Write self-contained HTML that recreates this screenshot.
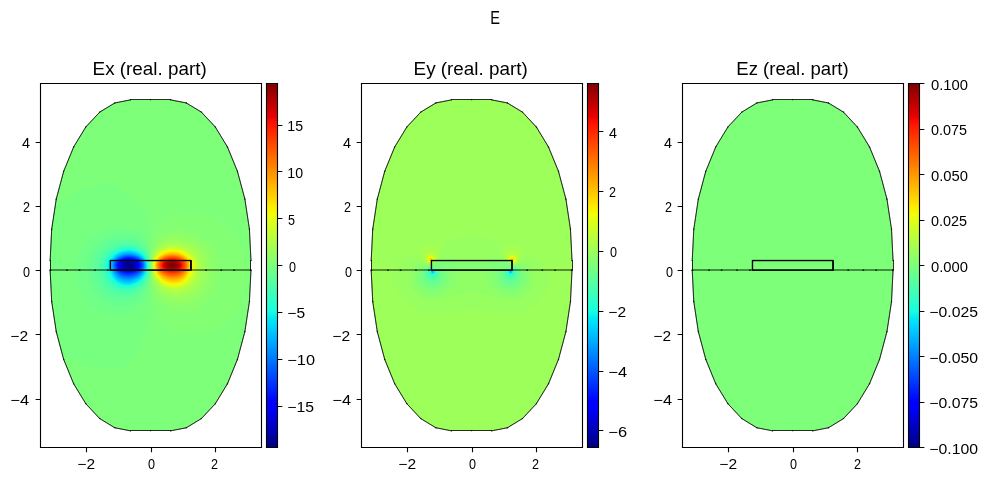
<!DOCTYPE html><html><head><meta charset="utf-8"><style>html,body{margin:0;padding:0;background:#fff;overflow:hidden}svg{display:block;will-change:transform}text{font-family:"Liberation Sans",sans-serif;fill:#000}</style></head><body>
<svg xmlns="http://www.w3.org/2000/svg" width="989" height="481" viewBox="0 0 989 481">
<defs><linearGradient id="jet" x1="0" y1="1" x2="0" y2="0"><stop offset="0.000" stop-color="#000080"/><stop offset="0.110" stop-color="#0000ff"/><stop offset="0.125" stop-color="#0000ff"/><stop offset="0.340" stop-color="#00dcfe"/><stop offset="0.350" stop-color="#00e4f8"/><stop offset="0.375" stop-color="#16ffe1"/><stop offset="0.640" stop-color="#eeff09"/><stop offset="0.650" stop-color="#f8f500"/><stop offset="0.660" stop-color="#feed00"/><stop offset="0.890" stop-color="#ff1300"/><stop offset="0.910" stop-color="#e80000"/><stop offset="1.000" stop-color="#800000"/></linearGradient><clipPath id="cp0"><path d="M170.64 430.85 L186.32 427.77 L201.39 418.62 L215.28 403.78 L227.45 383.79 L237.44 359.45 L244.87 331.67 L249.44 301.53 L250.98 270.18 L250.98 260.54 L249.44 229.19 L244.87 199.05 L237.44 171.27 L227.45 146.93 L215.28 126.94 L201.39 112.1 L186.32 102.95 L170.64 99.87 L150.56 99.87 L130.48 99.87 L114.8 102.95 L99.73 112.1 L85.84 126.94 L73.67 146.93 L63.68 171.27 L56.25 199.05 L51.68 229.19 L50.14 260.54 L50.14 270.18 L51.68 301.53 L56.25 331.67 L63.68 359.45 L73.67 383.79 L85.84 403.78 L99.73 418.62 L114.8 427.77 L130.48 430.85 L150.56 430.85Z"/></clipPath><clipPath id="cp1"><path d="M491.69 430.85 L507.36 427.77 L522.43 418.62 L536.32 403.78 L548.49 383.79 L558.48 359.45 L565.91 331.67 L570.48 301.53 L572.02 270.18 L572.02 260.54 L570.48 229.19 L565.91 199.05 L558.48 171.27 L548.49 146.93 L536.32 126.94 L522.43 112.1 L507.36 102.95 L491.69 99.87 L471.6 99.87 L451.52 99.87 L435.84 102.95 L420.77 112.1 L406.88 126.94 L394.71 146.93 L384.72 171.27 L377.3 199.05 L372.72 229.19 L371.18 260.54 L371.18 270.18 L372.72 301.53 L377.3 331.67 L384.72 359.45 L394.71 383.79 L406.88 403.78 L420.77 418.62 L435.84 427.77 L451.52 430.85 L471.6 430.85Z"/></clipPath><clipPath id="cp2"><path d="M812.73 430.85 L828.4 427.77 L843.47 418.62 L857.36 403.78 L869.53 383.79 L879.53 359.45 L886.95 331.67 L891.52 301.53 L893.06 270.18 L893.06 260.54 L891.52 229.19 L886.95 199.05 L879.53 171.27 L869.53 146.93 L857.36 126.94 L843.47 112.1 L828.4 102.95 L812.73 99.87 L792.64 99.87 L772.56 99.87 L756.89 102.95 L741.82 112.1 L727.93 126.94 L715.75 146.93 L705.76 171.27 L698.34 199.05 L693.77 229.19 L692.22 260.54 L692.22 270.18 L693.77 301.53 L698.34 331.67 L705.76 359.45 L715.75 383.79 L727.93 403.78 L741.82 418.62 L756.89 427.77 L772.56 430.85 L792.64 430.85Z"/></clipPath></defs>
<rect width="989" height="481" fill="#fff"/>
<path d="M170.64 430.85 L186.32 427.77 L201.39 418.62 L215.28 403.78 L227.45 383.79 L237.44 359.45 L244.87 331.67 L249.44 301.53 L250.98 270.18 L250.98 260.54 L249.44 229.19 L244.87 199.05 L237.44 171.27 L227.45 146.93 L215.28 126.94 L201.39 112.1 L186.32 102.95 L170.64 99.87 L150.56 99.87 L130.48 99.87 L114.8 102.95 L99.73 112.1 L85.84 126.94 L73.67 146.93 L63.68 171.27 L56.25 199.05 L51.68 229.19 L50.14 260.54 L50.14 270.18 L51.68 301.53 L56.25 331.67 L63.68 359.45 L73.67 383.79 L85.84 403.78 L99.73 418.62 L114.8 427.77 L130.48 430.85 L150.56 430.85Z" fill="#7dff7a"/>
<g clip-path="url(#cp0)"><path d="M179.4 214l5.6-.2l5.5 .2l5.5 .6l5.5 1.1l5.5 1.6l5 1.8l5 2.3l4.5 2.7l4.5 3.1l3.8 3.3l3.5 3.5l3.2 4l2.6 4l2.3 4.5l1.8 4.5l1.3 4.5l.7 4.5l.3 4.5l-.1 4.5l-.3 4l.3 7l-.3 6l-.7 5l-1.2 5l-1.6 5l-2.2 5l-2.8 5l-3.1 4.5l-4 4.5l-4 3.6l-4.5 3.3l-5 2.8l-5 2l-5 1.4l-4.5 .8l-4.5 .3l-4.5-.1l-5-.5l-5-1l-5-1.4l-5-1.9l-4-1.9l-2-1.3l-2-1.8l-2-2.3l-1.5-2.2l-2.2-4.3l-2.1-5.5l-3.2-5.5l-.8-2.5l-.7-4.5l-.9-12l-.4-9.5l0-12.5l0-8l.5-8l1-9.5l.8-3.6l.8-1.9l.7-1.2l3.8-3.8l2.2-3.4l1.7-2.1l3.3-3.1l3-2l3.5-1.5l3.5-.9z" fill="#83ff73"/><path d="M174.8 230l3.7-.2l4 .1l3.5 .5l4 .8l3.5 1.1l3.5 1.4l3 1.5l3.5 2.1l3 2.2l3 2.7l2.6 2.8l2.2 3l1.8 3l1.4 3l1.1 3.5l.7 3l.4 3.5l-.1 3.5l-.6 6l-.2 4l-.5 3.5l-.8 3.5l-1.1 3.5l-1.5 3.5l-1.7 3l-2.1 3l-2.6 3l-3 2.7l-3 2.2l-3 1.8l-3.5 1.6l-4 1.4l-4 .9l-3.5 .3l-3.5 0l-3.5-.3l-3.5-.8l-3.5-1.1l-3-1.3l-3-1.6l-3-2l-3.3-2.8l-1.1-1.5l-.8-1.5l-.8-2l-1.2-4.5l-1.4-4l-.7-3.5l-1.1-9l-.2-9.5l.1-7.5l.2-3l.8-5l.6-2.5l.6-2l1.9-4l1.6-4l1.3-1.9l1.5-1.4l3-1.6l4-1.5l4-1z" fill="#8aff6d"/><path d="M175.2 234.5l3.3 0l3.5 .2l3.5 .6l3 .8l3 1l3 1.3l3 1.7l2.5 1.6l2.5 2l2.4 2.3l1.7 2l1.8 2.5l1.5 2.5l1.3 3l.9 3l.5 2.5l.3 3l-.1 3.5l-1.4 11l-.7 3l-1 3l-1.3 3l-1.4 2.5l-2.2 3l-2.2 2.5l-2.6 2.3l-2.5 1.9l-3 1.7l-3 1.3l-3 1l-3.5 .7l-3 .3l-3.5 0l-3-.4l-3-.6l-3-1l-3-1.3l-3-1.7l-2-1.4l-1.5-1.6l-1.5-2.2l-4.3-8l-1.1-3.5l-1.5-7l-.4-10.5l.3-9l.3-2l1.3-4.5l1.4-3.4l2-2.8l2.5-3.1l2.5-2.6l1.5-1.1l2-.9l3.5-1.1l3.5-.7z" fill="#90ff66"/><path d="M171.4 238.5l3.1-.3l3-.1l3 .2l3 .4l5.5 1.5l3 1.3l2.5 1.3l2.5 1.6l2.5 2l2 1.9l1.9 2.2l1.4 2l1.4 2.5l1 2.5l.8 2.5l.4 2.5l.2 2.5l-.4 5.5l-1 6.5l-.5 2.5l-1.2 3.5l-1.4 3l-1.5 2.5l-1.9 2.5l-1.8 2l-2.3 2l-2.2 1.5l-2.4 1.4l-2.5 1l-3 1l-2.5 .5l-3 .3l-3 0l-3-.4l-3-.6l-3-1l-3.5-1.5l-2-1.1l-1.5-1.2l-2-2l-2-2.5l-2-3l-1.7-3.4l-2-6.5l-.5-3l-.3-6.5l0-4.5l.2-5l.6-3.5l2.2-5.2l1.1-1.8l1.9-2.3l2.5-2.3l2-1.6l2-1.2l2-.9l2-.6z" fill="#97ff60"/><path d="M170.3 241l5.7-.3l5.5 .5l5.5 1.5l5 2.3l2 1.2l2.4 1.8l3.6 3.6l1.8 2.4l1.1 2l.9 2l.8 2.5l.5 2.5l.1 2l-.4 5l-1.7 8.5l-1 3l-1.2 2.5l-2.7 4l-1.7 1.9l-2 1.8l-4 2.6l-2.5 1.1l-2.5 .9l-5 .9l-2.5 .1l-3-.1l-3-.5l-2.5-.7l-3-1l-2-1l-2-1.4l-2-1.8l-3.5-4.2l-1.3-2.1l-1.2-2.4l-1.9-5.1l-.4-2l-.3-3.5l-.2-8.5l.6-6l.6-2l.8-2l1.3-2.2l1.7-2.3l1.8-1.8l2.5-2l2.5-1.6l2-.9l2.5-.8z" fill="#9dff5a"/><path d="M172.6 242.5l4.9 .1l5 .8l5 1.7l4.5 2.3l4 3.1l3 3.5l1.3 2l1 2l.9 2.5l.4 1.5l.2 4l-.4 4.5l-1.9 8l-1.2 3l-1.4 2.5l-1.5 2l-1.8 2l-3.6 3l-2 1.2l-2.5 1.1l-2.5 .8l-2.5 .6l-4.5 .3l-5-.4l-5-1.4l-3.5-1.9l-2-1.6l-2-2l-3.5-4.4l-2-3.8l-1.4-4.5l-.6-7.5l.1-6l.8-5l.7-2l.9-1.7l1.5-2.1l1.5-1.6l2.5-2.1l2.5-1.6l2.5-1.3l2.5-.8l2.5-.6z" fill="#a4ff53"/><path d="M171 244l5-.1l5.5 .8l5 1.7l4.5 2.3l3.5 2.7l2.8 3.1l2.1 3.5l1.3 3.5l.4 4l-.4 4.5l-1.9 7.5l-1 2.5l-1.1 2l-2.7 3.7l-1.8 1.8l-1.7 1.3l-4 2.4l-4.5 1.4l-4.5 .6l-4.5-.2l-4.5-1l-2-.7l-2-1.1l-2-1.4l-2-1.7l-3.8-4.1l-2.2-3.7l-1.5-4.3l-.7-6l-.1-6l.8-5.5l.7-2l1-2l1.3-1.8l1.5-1.6l4-2.8l2-1.1l2.5-1.1l2.5-.7z" fill="#aaff4d"/><path d="M168.9 245.5l2.1-.3l2.5-.2l5 .4l4.5 1.1l4.5 1.8l3.5 2l3.5 3.1l2.4 3.1l2 4l.7 4l-.3 5l-1.9 7l-1.5 3.5l-2.2 3.5l-2.7 2.8l-3.5 2.5l-2 1l-2.5 .9l-4.5 .9l-4.5 .1l-4.5-.8l-2-.6l-2-.9l-4-2.6l-2-1.7l-2-2.1l-1.2-1.5l-1.1-2l-1.7-4.2l-.5-1.8l-.4-3l-.2-6.5l.8-5.5l1.3-3.6l2-2.9l1.5-1.5l1.5-1.1l2-1.2l3-1.4z" fill="#b1ff46"/><path d="M168.3 246.5l4.2-.5l4.5 .3l4.5 .9l4.5 1.6l5 3l1.9 1.7l2.9 3.5l1.8 3.5l.5 2l.2 2l-.3 5l-1.9 6.5l-1.3 3l-2.2 3.5l-2.6 2.7l-3.5 2.5l-3.5 1.6l-4.5 1l-4.5 .1l-4.5-.6l-4-1.5l-4-2.5l-3.6-3.3l-2.2-3l-1.9-4.5l-.5-2l-.5-3l-.2-6l.8-5l1.3-3.5l2-3l1.3-1.2l1.5-1.2l2-1.2l2.5-1.1z" fill="#b7ff40"/><path d="M169.3 247l4.2-.3l4.5 .5l4 1l4 1.6l5 3.2l1.5 1.5l2.4 3l1.8 3.5l.5 4l-.4 5l-2 6l-1.6 3.5l-2.2 3l-3 2.8l-3 1.9l-4 1.5l-4.5 .8l-4.5-.2l-4-.8l-4-1.8l-3.5-2.5l-3-3l-2-3.2l-1.8-4.5l-.8-5l-.1-5l.9-4.5l1.5-3.5l2.3-3l1.5-1.4l1.5-1l4-1.9l2.5-.7z" fill="#beff39"/><path d="M169.9 247.5l4.1-.2l4 .5l4 1.1l3.5 1.4l2.5 1.5l3.5 2.7l2.5 3l1.2 2l.6 1.5l.4 2l.2 2l-.1 2.5l-.3 2.5l-2.1 6l-1.5 3l-1.3 2l-1.4 1.5l-2.7 2.4l-3 1.8l-4 1.4l-4 .6l-4.5-.2l-3.5-.8l-4-1.8l-3.5-2.4l-2.9-3l-2.1-3.4l-1.7-4.1l-.7-5l-.2-3l.2-2l.9-4l1.7-3.5l1.3-1.8l1.2-1.2l1.3-1.1l2-1.2l4-1.7z" fill="#c4ff33"/><path d="M170.2 248l3.8-.1l4 .5l4 1.1l3.5 1.5l2.5 1.6l3.5 2.8l2.4 3.1l1.1 2l.3 1l.4 3.5l-.4 5l-2.1 5.5l-1.4 3l-.8 1.3l-1.9 2.2l-2.6 2.3l-3.5 2l-3.5 1.2l-4 .5l-4.5-.2l-4-1.1l-3.5-1.8l-3.5-2.6l-2.5-2.8l-2.4-4l-.8-2l-.4-1.5l-.7-4.5l.1-4.5l.3-2l.7-2l1.7-3.3l2.5-2.9l3-2.1l4-1.7l2.5-.7z" fill="#caff2c"/><path d="M170.3 248.5l3.7-.1l4 .5l3.5 1l3.7 1.6l2.8 1.8l2.5 2.3l.5 .1l1.5 1.8l1.3 2l.6 1l.4 1.5l.3 3.5l-.4 4.5l-2.4 6l-1.3 2.5l-2.5 3.1l-2.8 2.4l-3.2 1.8l-3.5 1.1l-4 .5l-4-.3l-4-1.1l-3.5-1.7l-3.5-2.7l-2.5-2.8l-2.3-3.8l-.7-1.7l-.5-1.8l-.6-4.5l.1-4l.8-3.5l1.9-3.5l2.3-2.6l1.5-1.2l2-1.2l4-1.6z" fill="#d1ff26"/><path d="M170.3 249l3.7-.1l3.5 .4l3.5 .9l3.5 1.5l3.5 2.3l2.5 2.5l.5-.1l2.3 3.1l.5 1l.3 1l.5 3.5l-.4 5l-3.2 7.2l-2.5 3.4l-2.6 2.4l-3.4 2l-3.5 1.2l-3.5 .6l-4-.2l-4-1l-3.5-1.7l-3.5-2.5l-2.5-2.6l-1.3-1.8l-1.2-2.1l-.8-1.9l-.5-1.5l-.6-4.5l.1-4l.8-3.3l1.8-3.2l1.2-1.6l1.5-1.4l3-2l4-1.6z" fill="#d7ff1f"/><path d="M170 249.5l3.5-.2l3.5 .4l3.5 .9l3.5 1.5l2 1.1l1.7 1.3l1.6 1.5l1.2 1.4l.5-.3l2 2.9l.6 1.5l.5 3.5l-.4 5l-2.7 5.9l-.5 .4l-2 3.2l-2.5 2.6l-1.5 1.1l-2 1.1l-3.5 1.3l-4 .6l-4-.3l-3.5-.9l-3.5-1.6l-3.5-2.5l-2.5-2.6l-2.1-3.3l-.9-1.8l-.5-1.7l-.7-4.5l.1-4l.8-3l1.8-3.3l2.5-2.7l3-2l4-1.7z" fill="#deff19"/><path d="M169.4 250l3.6-.2l3.5 .3l3 .7l3.5 1.3l2.5 1.4l2 1.5l1.5 1.5l1.5 1.9l.5-.6l1.6 2.2l.4 1l.6 3.5l-.3 4.5l-.3 1.5l-2 4.1l-.5 0l-1.7 3.4l-1.3 1.7l-1.5 1.6l-3 2.1l-3.5 1.5l-4 .7l-3.5-.1l-4-.8l-3.5-1.6l-3.5-2.3l-2.5-2.5l-2.5-3.7l-1.3-3.1l-.7-4l0-4l.4-2l.5-1.5l1.6-2.9l2.4-2.6l2.6-1.9l4-1.7z" fill="#e4ff13"/><path d="M168.6 250.5l3.4-.3l3.5 .1l3.5 .8l3 1l2.5 1.3l2 1.4l2.3 2.2l1.7 2.4l.5-.9l1.4 2l.7 3.5l-.1 4l-.3 2l-1.7 3.5l-.5-.6l-.7 2.1l-1 2l-1.4 2l-1.4 1.5l-3 2.2l-3.5 1.6l-3.5 .7l-3.5 .1l-4-.7l-3-1.2l-3.5-2.1l-2.9-2.6l-2.6-3.5l-1.3-3l-.9-4l-.1-4l.6-3l1.5-3l2.2-2.7l2.5-2l4-1.9z" fill="#ebff0c"/><path d="M167.8 251l3.2-.4l3.5 0l3.5 .6l3 .9l3 1.5l2.7 1.9l2.4 2.5l1.4 2.4l.5-1.3l1 1.4l.6 2.5l.2 2l-.2 3l-.5 2.5l-1.1 2.1l-.5-1l-1.8 4.4l-1.2 2l-1.2 1.5l-2.8 2.3l-3.5 1.8l-3.5 .9l-3.5 .2l-3.5-.5l-3.5-1.2l-3.5-2l-2.9-2.5l-2.1-2.6l-1.9-3.4l-1-3.5l-.3-4l.4-3l1.3-3l2-2.8l2.5-2.2l3.5-1.8z" fill="#f1fc06"/><path d="M169.8 251l3.2-.2l3 .3l3 .7l3 1.1l3 1.7l2.2 1.9l2.1 2.5l1.2 2.5l.5-1.9l.8 1.4l.5 3l0 3l-.3 3l-1 1.9l-.5-1.7l-2.3 5.8l-1.3 2l-1.8 2l-3.1 2.2l-3.5 1.5l-3.5 .6l-4-.2l-4-1.1l-3-1.5l-3-2.2l-2.5-2.6l-2.1-3.2l-1.3-3.5l-.6-3.5l.2-3.5l1-3l1.6-2.5l2.2-2.3l3-2l3.5-1.4z" fill="#f8f500"/><path d="M168.7 251.5l3.3-.3l3 .1l3 .6l3 .9l3.5 1.9l2.7 2.3l2 2.5l.7 1.5l.6 1.9l.5-2.8l.3 .4l.5 2l.2 2.5l-.1 3.5l-.5 2l-.4 .7l-.3-1.2l-.2-1.6l-.6 2.6l-1.4 3.5l-.8 1.5l-1.2 1.9l-1.5 1.6l-1.8 1.5l-1.7 1l-2.4 1l-3.1 .7l-3.5 .1l-3.5-.6l-3.5-1.4l-3-1.8l-3-2.7l-2.5-3.3l-1.4-3l-.8-3.5l0-3.5l.7-2.9l1.4-2.6l2.1-2.4l2.5-1.9l3.5-1.7z" fill="#feed00"/><path d="M168 252l3.5-.5l3.5 .2l3.5 .6l3 1.1l2.5 1.4l2.5 1.9l2 2.3l1.3 2.5l.6 3l-.1 3l-.6 3l-1.7 4.2l-1.4 2.3l-1.7 2l-2.4 1.9l-2.5 1.3l-3 .8l-3.5 .4l-3.5-.5l-3.5-1.1l-3.5-2l-3-2.5l-2.5-3l-1.4-2.8l-.9-3l-.3-3.5l.5-3l1.2-2.5l1.9-2.5l2.5-2.1l3.5-1.8zM191 260.6l.6 2.4l.1 2l-.2 3.5l-.2 1.5l-.3 .7l-.3-1.7l-.2-3.5z" fill="#ffe600"/><path d="M170.4 252l3.1-.1l3.5 .4l3 .9l3 1.3l2.5 1.7l2 2l1.5 2.3l.9 2.5l.3 2.5l-.4 3.5l-1 3l-2 4l-1.8 2.3l-2 1.7l-2.5 1.4l-3 1l-3.5 .4l-3.5-.3l-3.5-1.1l-3-1.5l-3-2.2l-2.6-2.7l-1.6-2.5l-1.3-3.6l-.4-3.4l.2-2.5l1-2.5l1.7-2.5l2.5-2.3l2.5-1.5l3.5-1.4zM191 261.6l.4 3.4l0 2.5l-.4 2.5l-.3-4.5z" fill="#ffde00"/><path d="M169.5 252.5l3-.2l3.5 .2l3 .7l3 1.2l2.5 1.5l2 1.6l1.6 2l1.3 2.5l.5 2.5l-.2 3.5l-.8 3l-1.6 3.5l-1.3 2l-2 2.1l-2.5 1.7l-2.5 1.1l-3 .7l-3.5 .1l-3.5-.6l-3.5-1.4l-3.5-2.2l-2.5-2.2l-2-2.6l-1.4-3.2l-.7-3l0-3l.7-2.5l1.4-2.5l2-2.1l3-2.1l3.5-1.5zM191 263l.2 2.5l-.2 2.8l-.1-2.8z" fill="#ffd700"/><path d="M168.9 253l3.1-.3l3.5 .1l3 .6l2.9 1.1l2.6 1.4l2 1.6l1.8 2l1.2 2.3l.6 2.2l0 3l-.6 2.8l-1 2.5l-1.5 2.8l-1.5 1.9l-2.3 2l-2.7 1.5l-3 .9l-3.5 .3l-3.5-.4l-3.5-1.1l-3-1.6l-3-2.3l-2.5-2.8l-1.5-3l-.8-3l-.2-3l.6-2.5l1.3-2.5l2.1-2.3l2.5-1.7l3.5-1.6z" fill="#ffd000"/><path d="M168.2 253.5l3.3-.4l3 0l3 .5l3 .9l2.5 1.2l2.5 1.8l1.9 2l1.1 1.9l.7 2.1l.2 2l-.4 3l-.8 2.5l-1.7 3.3l-1.5 2.1l-2 1.8l-2.5 1.5l-3 1l-3.5 .5l-3.5-.3l-3-.8l-3.5-1.7l-3-2.1l-2.5-2.7l-1.5-2.6l-1-3l-.3-3l.4-2.5l1.3-2.5l2.1-2.4l2.5-1.8l3-1.4z" fill="#ffc800"/><path d="M170.6 253.5l2.9-.1l3 .3l3.5 1l2.5 1.1l2 1.3l2.1 1.9l1.4 2l.8 2l.3 2.5l-.3 3l-1.1 3l-1.7 2.9l-1.5 1.9l-2 1.7l-2 1.1l-2.5 1l-3 .5l-3.5-.1l-3.5-.7l-3.5-1.6l-3-2l-2.5-2.4l-1.5-2.3l-1.2-3l-.4-3l.3-2.5l1.1-2.5l1.6-2l2.1-1.8l2.5-1.4l3.5-1.2z" fill="#ffc100"/><path d="M169.1 254l2.9-.3l3 .2l2.5 .4l3 .9l2.5 1.3l2.2 1.5l1.8 2l1.2 2l.6 2l0 2.5l-.5 2.5l-.8 2.2l-2 3.3l-1.3 1.5l-1.8 1.5l-2.4 1.3l-3 1l-3 .4l-3.5-.3l-3-.8l-3.5-1.6l-3-2.1l-2-2.1l-1.7-2.8l-.9-2.5l-.3-3l.5-2.5l1.3-2.5l2.1-2.2l2.5-1.7l3-1.2z" fill="#ffb900"/><path d="M167.9 254.5l3.1-.4l3 0l2.5 .3l3 .8l2.5 1l2.5 1.6l1.5 1.4l1.4 1.8l.9 2l.3 2l-.2 2.5l-.5 2l-1.2 2.5l-1.7 2.5l-1.5 1.6l-2 1.4l-3 1.4l-3 .7l-3 .1l-3.5-.6l-3.5-1.3l-3-1.7l-2.5-2.1l-1.9-2.5l-1.2-2.5l-.6-3l.2-2.5l1-2.5l1.5-2l2.5-2l3-1.5z" fill="#ffb200"/><path d="M169.5 254.5l2.5-.2l3 .1l2.5 .5l3 .9l2.5 1.3l1.9 1.4l1.6 1.7l1.1 1.8l.6 2l.1 2l-.4 2.5l-.7 2l-1.2 2l-2 2.5l-2 1.7l-2 1.1l-3 1l-3 .4l-3.5-.3l-3-.7l-3.5-1.6l-3-2.1l-2-2.1l-1.5-2.6l-.9-2.8l-.1-2.5l.7-2.5l1.3-2l2-2l2.5-1.6l3-1.2z" fill="#ffab00"/><path d="M168 255l2.5-.4l3 0l3 .3l2.5 .7l2.5 1l2 1.1l2 1.7l1.3 1.6l.7 1.5l.5 2l0 2l-.5 2.5l-1 2.1l-1.5 2.2l-1.5 1.7l-2 1.5l-2.5 1.2l-3 .8l-3 .2l-3.5-.4l-3.5-1.2l-3.5-1.9l-2.5-2l-1.5-2l-1.3-2.7l-.5-2.5l.2-2.5l1.1-2.5l1.7-2l2.3-1.8l3-1.4z" fill="#ffa300"/><path d="M169.6 255l2.9-.2l2.5 .2l2.5 .4l2.5 .8l2.5 1.2l2 1.4l1.5 1.6l1 1.6l.6 1.5l.2 2l-.3 2.5l-.8 2l-1.2 2.1l-2 2.3l-1.5 1.2l-2 1.2l-3 1l-3 .4l-3-.1l-3.5-.8l-3.5-1.5l-2.5-1.7l-2-1.9l-1.5-2.4l-.8-2.3l-.3-2.5l.6-2.5l1.1-2l1.9-2l2.5-1.5l3-1.2z" fill="#ff9c00"/><path d="M168 255.5l2.5-.4l3 0l2.5 .3l2.5 .6l2.5 .9l2 1.1l1.9 1.5l1.2 1.5l.9 1.5l.4 1.5l.1 2l-.3 2l-.7 1.8l-1 1.8l-2 2.3l-1.5 1.2l-2.5 1.4l-3 1l-3 .3l-3.5-.3l-3-.8l-3.5-1.6l-2.5-1.7l-2-2.4l-1.3-2.5l-.5-2.5l.2-2.5l.8-2l1.6-2l2.2-1.7l3-1.5z" fill="#ff9400"/><path d="M169.4 255.5l2.6-.2l2.5 .1l2.5 .4l2 .6l2 .8l2.3 1.3l1.7 1.5l1.2 1.5l.7 1.5l.4 1.5l-.1 2l-.4 2l-1 2l-1 1.5l-2 2l-1.8 1.3l-2.5 1.2l-3 .7l-3 .2l-3.5-.5l-3.5-1.2l-3-1.6l-2-1.6l-1.8-2.5l-1.1-2.5l-.2-2.5l.5-2.5l1.1-1.8l1.6-1.7l2.4-1.6l3-1.2z" fill="#ff8d00"/><path d="M167.8 256l2.2-.3l2.5-.2l2.5 .2l2.5 .5l2.5 .8l2 1l1.5 1l1.6 1.5l1.1 1.5l.6 1.5l.2 1.5l-.1 2l-.6 2l-.8 1.5l-1.1 1.5l-1.9 1.8l-2.5 1.6l-2.5 1l-3 .5l-3.5 0l-3.5-.8l-3-1.2l-2.5-1.5l-2-1.9l-1.5-2.4l-.8-2.6l0-2.5l.7-2l1.5-2l2.1-1.7l2.5-1.3z" fill="#ff8600"/><path d="M169 256l2.5-.2l2.5 0l2.5 .4l2.5 .6l2 .9l2 1.2l1.5 1.3l1.1 1.3l.8 1.5l.4 1.5l0 1.5l-.4 2l-.9 2l-1 1.4l-1 1.1l-2 1.6l-2.5 1.4l-3 .8l-3 .3l-3-.2l-3.5-1l-3-1.4l-2.1-1.5l-1.9-2.2l-1.2-2.3l-.4-2.5l.2-2l.9-2l1.7-2l2.2-1.5l2.6-1.1z" fill="#ff7e00"/><path d="M171.2 256l2.3 0l2.5 .3l2.5 .6l2 .8l2 1.1l1.5 1.2l1.3 1.5l.8 1.5l.4 1.5l0 2l-.5 1.8l-.8 1.7l-1.2 1.6l-1.5 1.3l-2 1.4l-2 1l-3 .8l-3 .1l-3-.3l-3-.8l-3-1.4l-2-1.5l-1.9-2.2l-1-2l-.5-2l.1-2l.8-2l1.5-2l2-1.5l2.5-1.2l3-.9z" fill="#ff7700"/><path d="M168.7 256.5l4.3-.3l2.5 .2l2 .4l2 .7l2 .9l1.5 1l1.2 1.1l.8 1l.9 1.5l.4 1.5l0 1.5l-.3 1.5l-.6 1.5l-.9 1.5l-1 1.2l-2.5 1.9l-2.5 1.3l-3 .8l-3 .2l-3.1-.4l-3.4-1l-2.9-1.5l-2.1-1.8l-1.5-2l-.9-2.2l-.2-2.5l.6-2l1.4-2l2.1-1.7l2.5-1.3z" fill="#ff6f00"/><path d="M170.4 256.5l4.1 0l2.5 .4l1.9 .6l2.1 .9l1.5 .9l1.4 1.2l.8 1l.8 1.3l.4 1.2l.2 1.5l-.2 1.5l-.5 1.5l-.9 1.5l-1 1.2l-1.5 1.3l-2.5 1.6l-2.5 .9l-3 .5l-3-.1l-3.5-.8l-3-1.2l-2.5-1.7l-1.6-1.7l-1.2-2l-.5-2.5l.2-2l1.1-2.1l1.9-1.9l2.1-1.3l3-1.1z" fill="#ff6800"/><path d="M168.5 257l4-.4l4 .5l2 .5l2 .8l1.8 1.1l1.2 1l1 1.1l.8 1.4l.4 1l.1 1.5l-.2 1.5l-.5 1.5l-1.6 2.3l-2 1.7l-2.5 1.4l-2.5 .8l-3 .4l-3-.2l-3.5-.8l-3-1.4l-2-1.4l-2-2.3l-.8-2l-.3-2l.6-2.3l1.5-2.1l2-1.6l2.5-1.2z" fill="#ff6000"/><path d="M170.2 257l3.8-.1l4 .8l2 .8l1.5 .8l1.5 1.1l1 1l1.2 2.1l.3 1l0 1.5l-.3 1.5l-.7 1.5l-1 1.3l-1 1l-2.5 1.7l-2.5 1l-2.5 .5l-3 .1l-3.5-.5l-3-1l-2.5-1.4l-1.8-1.7l-1.4-2l-.5-2l0-1.5l.2-1l1-1.9l1.6-1.6l2.4-1.5l2.9-1z" fill="#ff5900"/><path d="M168.5 257.5l4-.4l3.5 .4l3.5 1l3 1.8l1.3 1.2l.7 1l.7 2l0 1l-.2 1.5l-.6 1.5l-.9 1.3l-2 1.9l-2.5 1.3l-2.5 .9l-3 .3l-3-.1l-3-.7l-3-1.2l-2-1.3l-1.8-1.9l-.9-2l-.3-2l.5-2l1.4-2l1.6-1.4l2.5-1.2z" fill="#ff5200"/><path d="M170.1 257.5l3.9-.1l3.5 .7l3 1.2l2.5 1.8l.8 .9l.7 1.3l.4 1.2l0 1l-.2 1.5l-.4 1l-.8 1.3l-1 1.1l-2 1.5l-2.5 1.1l-2.5 .6l-3 .3l-3-.4l-3-.8l-2.5-1.2l-2-1.5l-1.5-2l-.6-2l.1-2l.9-2l1.6-1.7l2-1.2l2.5-1z" fill="#ff4a00"/><path d="M168.6 258l3.9-.4l3.5 .4l3.3 1l2.6 1.5l1.1 1l.8 1l.7 2l.1 1l-.3 1.5l-1 2l-1.8 1.8l-2 1.2l-2.5 .9l-3 .5l-3 0l-3-.5l-3-1.2l-2-1.2l-1.5-1.5l-1.1-2l-.3-2l.6-2l1-1.5l1.8-1.5l2.5-1.3z" fill="#ff4300"/><path d="M170.2 258l3.3-.1l3.5 .6l2.8 1l2.3 1.5l.9 1l.7 1l.6 2l-.2 1.5l-.3 1l-1.3 1.9l-1.9 1.6l-2.1 1l-2.5 .8l-3 .3l-3-.2l-3-.7l-2.5-1.1l-2-1.5l-1.3-1.6l-.7-2l.1-2l.7-1.5l1.3-1.5l2.3-1.5l2.6-1z" fill="#ff3b00"/><path d="M168.7 258.5l3.3-.4l3.5 .3l3 .8l2.5 1.4l1.1 .9l.9 1l.8 2l0 2l-1 2l-1.8 1.8l-2 1.2l-2.5 .8l-2.5 .4l-3 0l-2.5-.4l-2.5-.8l-2.5-1.4l-1.5-1.5l-.9-1.6l-.3-2l.3-1.5l.9-1.5l1.7-1.5l2.3-1.2z" fill="#ff3400"/><path d="M170.3 258.5l3.2-.1l3.5 .6l2.5 1l2.2 1.5l1.2 1.5l.6 2l-.3 2l-1.2 1.9l-1.9 1.6l-2.1 1l-2.5 .7l-2.5 .3l-3-.2l-2.5-.6l-2.5-1l-1.7-1.2l-1.4-1.5l-.8-2l.2-2l.7-1.5l1.5-1.5l2-1.2l2.5-.9z" fill="#ff2d00"/><path d="M168.8 259l3.2-.3l3 .2l3 .7l2.5 1.3l1.7 1.6l.6 1l.3 1l-.1 2l-.7 1.5l-1.4 1.5l-1.9 1.2l-2 .8l-2.5 .5l-2.5 .2l-3-.4l-2.5-.7l-2.1-1.1l-1.7-1.5l-.9-1.5l-.4-2l.4-1.5l1-1.5l1.7-1.4l2-.9z" fill="#ff2500"/><path d="M170.6 259l2.9-.1l2.5 .4l2.5 .8l2.2 1.4l1.4 1.5l.5 1l.2 1l-.1 1l-.3 1l-.9 1.5l-1.5 1.3l-2 1l-2.5 .8l-2.5 .3l-2.5-.2l-2.5-.5l-2.5-.9l-1.9-1.3l-1.2-1.5l-.6-1.5l0-1.5l.7-1.6l1.3-1.4l1.7-1.1l2.5-.9z" fill="#ff1e00"/><path d="M169 259.5l2.5-.3l3 .1l2.9 .7l2.1 1l1.8 1.5l.9 1.5l.2 1.5l-.2 1l-.4 1l-1.3 1.5l-1.5 1l-2 .9l-2.5 .5l-2.5 .2l-2.5-.3l-2.5-.7l-2-1l-1.5-1.1l-1.1-1.5l-.3-1.5l.2-1.5l.9-1.5l1.3-1.2l2-1z" fill="#ff1600"/><path d="M170.8 259.5l2.7 0l2.5 .4l2.5 .9l1.8 1.2l1.3 1.5l.4 1.5l-.2 1.5l-.8 1.5l-1.5 1.3l-2 1.1l-2 .5l-2.5 .4l-2.5-.1l-2.5-.6l-2-.7l-2-1.4l-.9-1l-.7-1.5l.1-1.5l.6-1.5l1.4-1.3l1.5-.9l2.5-.9z" fill="#fa0f00"/><path d="M169.1 260l2.9-.3l2.5 .1l2.5 .7l2.2 1l1.6 1.5l.7 1.5l.1 1.5l-.7 1.5l-1.4 1.4l-1.5 .9l-2 .7l-2 .4l-2.5 .1l-2.5-.4l-2-.6l-2-1l-1.1-1l-1-1.5l-.2-1.5l.2-1l1-1.5l1.3-1l1.8-.9z" fill="#f10800"/><path d="M170.7 260l2.3 0l2.5 .3l2 .6l1.8 1.1l1.1 1l.7 1.5l.1 1.5l-.8 1.5l-1.4 1.4l-1.5 .8l-2 .6l-2.5 .4l-2.5-.1l-2-.4l-2-.7l-1.7-1l-1-1l-.7-1.5l0-1.5l.4-1l1.4-1.5l1.6-.9l2-.7z" fill="#e80000"/><path d="M169.1 260.5l2.4-.3l2.5 .1l2 .4l2 .8l1.5 1.1l1.1 1.4l.2 1.5l-.4 1.5l-.9 1.1l-1.5 1l-2 .8l-2 .4l-2.5 .1l-2-.2l-2-.6l-1.5-.6l-1.3-1l-.8-1l-.5-1.5l.1-1.1l.8-1.4l1.1-1l1.6-.9z" fill="#df0000"/><path d="M170.5 260.5l2.5-.1l2 .3l2 .6l1.5 .8l1 .9l.9 1.5l0 1.5l-.5 1l-.9 1.1l-1.5 1l-2 .7l-2 .3l-2 .1l-2-.3l-2-.5l-1.7-.9l-1.3-1.2l-.7-1.3l0-1.5l.5-1l.9-1l1.6-1l1.7-.6z" fill="#d60000"/><path d="M169.1 261l2.4-.3l2 0l2 .4l2 .8l1.5 1.1l.8 1l.3 1l-.3 1.5l-.7 1l-1.2 1l-1.4 .7l-2 .5l-2 .2l-2-.1l-1.8-.3l-1.7-.6l-1.4-.9l-1-1l-.4-1l0-1.5l.5-1l1-1l1.8-1z" fill="#cd0000"/><path d="M170.4 261l2.1-.1l2 .2l2 .6l1.5 .8l1 1l.6 1l0 1.5l-.5 1l-1 1l-1.6 .9l-1.5 .5l-2 .3l-3.5-.3l-1.5-.4l-1.9-1l-1-1l-.5-1l-.1-1l.3-1l.8-1l1.5-1l1.4-.6z" fill="#c40000"/><path d="M169.2 261.5l2.3-.3l2 0l1.5 .3l2 .8l1.1 .7l.9 1.1l.3 1.4l-.3 1l-.8 1l-1.2 .8l-1.5 .6l-1.5 .4l-2 .1l-1.5-.1l-1.5-.3l-1.5-.6l-1.4-.9l-.9-1l-.3-1l.1-1l.6-1l.9-.8l1.3-.7z" fill="#bb0000"/><path d="M170.9 261.5l3.1 .1l1.7 .4l1.3 .6l1.1 .9l.6 1l.1 1l-.3 1l-.9 1l-.7 .5l-1.4 .6l-1.6 .4l-3.4 0l-2-.5l-1.1-.5l-1.2-1l-.6-1l-.1-1l.3-1l1-1l.7-.5l1.5-.6z" fill="#b20000"/><path d="M170 262l2-.2l1.5 0l1.5 .3l1.5 .7l1 .7l.7 1l.2 1l-.4 1l-1 1l-.9 .5l-2.6 .7l-3-.1l-2.5-.8l-1.5-1.3l-.4-1l.1-1l.7-1l.7-.5z" fill="#a80000"/><path d="M169.8 262.5l1.7-.3l1.5 0l1.8 .3l1.2 .5l1 .7l.6 .8l.2 1l-.2 .5l-.6 .9l-.8 .6l-2.2 .7l-2.5 .1l-2.5-.5l-1-.6l-.8-.7l-.3-.5l-.2-1l.3-.7l.7-.8z" fill="#9f0000"/><path d="M169.8 263l2.7-.4l2.5 .5l1 .5l.8 .9l.2 .9l-.2 .6l-.9 1l-1.9 .7l-2.5 .2l-2-.5l-1.6-.9l-.4-.7l-.1-.8l.6-1z" fill="#960000"/><path d="M169.8 263.5l2.2-.4l2 .2l1.5 .8l.5 .6l.1 .8l-.6 1l-1.5 .7l-2 .3l-2-.4l-1.2-.6l-.7-1l.3-1l.5-.5z" fill="#8d0000"/><path d="M170 264l1.5-.4l2 .2l1.4 .7l.3 .5l0 .5l-.7 .8l-1 .5l-1.5 .2l-1.5-.3l-1-.5l-.6-.7l0-.5l.4-.5z" fill="#840000"/><path d="M170.5 264.5l1.5-.3l1 .1l1 .7l.1 .5l-.5 .5l-.6 .2l-1 .2l-1-.2l-.6-.2l-.5-.5l.1-.5z" fill="#800000"/><path d="M101.6 185l5.4 0l5 .7l4.7 1.3l4.4 2l3.4 2.3l3 2.6l2.3 2.6l2.8 4l1.4 1.5l1.9 1.5l4.1 2.7l2 1.8l1.3 1.5l1.2 2l1.2 2.5l.9 2.5l1.2 5l1 7l.7 2.5l.5 4l.4 12l.1 11.5l0 25l-.4 16.5l-.3 4.5l-.7 4l-1 11l-.7 4.5l-.9 4.1l-1 3l-1.1 2.4l-3.5 5l-1.4 2.5l-2.6 8l-2.1 5l-2 3.5l-2.2 3l-1.6 1.8l-1.9 1.7l-2.1 1.4l-2 1.1l-4.5 1.7l-2.5 .5l-3 .3l-3.5 .1l-4.5-.3l-5-.7l-5-.9l-4.5-1l-5-1.5l-8.5-3.2l-8-4l-7.5-4.7l-7-5.6l-3.4-3.2l-3.1-3.2l0-128.3l5.7-5.5l6.3-5.1l7-4.7l7.5-4.2l7-3.3l7-2.4l6.5-1.5z" fill="#77ff80"/><path d="M113.2 228l3.8-.4l4-.1l4 .3l4 .6l4 1l4 1.4l3.5 1.6l2.5 1.5l1.5 1.6l1 1.8l1.6 5.2l1.4 3.6l.8 3.9l.8 7l.2 8l-.1 10l-.8 9l-.6 3.5l-1.2 4.5l-1 5l-.6 2l-1 2l-1.5 2l-3.5 3.1l-3.5 2.5l-4 2.3l-4 1.8l-3.5 1.1l-4 .9l-4 .5l-4.5-.2l-4.5-.6l-4-1.1l-4-1.5l-4-2l-3.4-2.3l-3.1-2.6l-3-3.2l-2.4-3.2l-2.1-3.5l-1.8-4l-1.4-4l-.8-3.5l-.5-3.5l-.2-6.5l-.6-6l-.1-3.5l.4-3.5l.7-3.5l1-3l1.5-3.5l1.7-3l2.1-3l2.1-2.5l2.5-2.5l3-2.5l3.4-2.3l3.5-2l4-1.9l3.5-1.2l3.5-1z" fill="#70ff87"/><path d="M119.2 233.5l5.8-.2l6 .6l3.5 .9l3 1l1.5 .8l1.5 1.1l1.5 1.8l4 5.7l1 1.7l.7 1.6l1.9 7l.4 7.5l-.3 13l-1.4 8l-1.3 4l-4.7 9.5l-1.3 1.7l-2 1.6l-3 1.9l-3 1.4l-3 1.2l-3 .8l-3 .5l-3 .2l-3.5-.1l-3.5-.5l-3.5-.9l-3.5-1.3l-3-1.6l-3-2l-2.9-2.4l-2.4-2.5l-2-2.5l-1.8-3l-1.5-3l-1.3-3.5l-.8-3l-.6-3l-1.1-11l.1-3l.3-3l.8-3l.8-2.5l1.5-3l1.5-2.5l1.8-2.5l2.1-2.3l2.4-2.2l2.6-2l2.5-1.6l3-1.6l3.5-1.5l3-1l3-.7z" fill="#6aff8d"/><path d="M118.5 237.5l5.5-.4l5.5 .4l5.5 1.3l3.5 1.7l2 1.5l2 1.9l2 2.1l1.5 2l1 1.9l1.6 4.1l.6 2l.2 2l.4 8l-.5 10l-.5 2.5l-1.6 5.5l-.8 2l-1.1 2l-1.8 2.8l-2 2.7l-2 2.1l-2 1.6l-3.5 1.9l-3.5 1.4l-3.5 .9l-3.5 .5l-3.5 .1l-3-.3l-3-.6l-3-.9l-3-1.4l-2.5-1.5l-2.5-1.8l-2.5-2.4l-2-2.3l-1.9-2.8l-1.3-2.5l-1.3-3l-1.3-5l-1.3-9.5l-.1-3l.2-2.5l.4-2.5l.7-2.5l2.1-4.5l1.6-2.5l1.7-2.1l2-2.1l2.1-1.8l2.4-1.7l2.5-1.5l2.5-1.2l3-1.1l3-.9z" fill="#63ff94"/><path d="M119.8 240.5l5.2-.5l5.5 .3l4 .9l2 .8l2 1l2 1.4l2 1.7l2 2l1 1.3l1.5 2.5l1.2 2.6l.6 2l.3 2l.4 7.5l-.5 9.5l-1.3 4.5l-2.4 5.5l-2.3 3.3l-2 2.3l-2 1.9l-2 1.5l-2.5 1.2l-3 1.1l-3 .8l-3 .4l-3 .2l-3-.2l-2.5-.4l-3-.8l-3-1.2l-2.5-1.4l-2.5-1.7l-2-1.8l-2-2.2l-1.4-2l-1.5-2.5l-1.1-2.5l-1.4-4.5l-1.4-8.5l-.1-5l.8-4l.9-2.5l.9-2l1.6-2.5l1.6-2l3.6-3.4l4.5-3l3-1.4l2.5-.9z" fill="#5dff9a"/><path d="M124.9 242l3.1 0l3 .2l2.5 .6l2 .6l2 .9l2.5 1.5l2.5 1.9l2 1.9l1.5 1.9l1 1.6l.9 1.9l.6 1.9l.7 6.1l0 5.5l-.6 6.5l-1.3 4.5l-1.3 2.7l-1.5 2.5l-3.5 4.3l-3.5 2.9l-2 1.2l-2 .9l-2.5 .7l-3 .6l-3 .3l-2.5 0l-2.5-.2l-2.5-.5l-2.5-.7l-2.5-1.1l-2.5-1.4l-2-1.4l-2-1.8l-1.8-2l-2.6-4l-1.8-4.5l-1.8-8l-.3-2.5l0-3l.5-4l.9-2.5l1-2l1.2-2l1.6-2l3.1-3l4-2.8l4.5-2.1l5-1.4z" fill="#56ffa0"/><path d="M125.6 243.5l5.4 .2l2.5 .5l2 .7l2 .9l2.5 1.4l3 2.1l1.5 1.4l1.5 1.8l.9 1.5l1.3 3.5l.7 5l.1 5.5l-.7 6.5l-1.3 4.3l-1 2.1l-1.3 2.1l-3.7 4.2l-3.5 2.9l-2 1.2l-2 .9l-2.5 .8l-2.5 .5l-5 .2l-2.5-.2l-2.5-.4l-2.5-.8l-2.5-1.1l-4-2.5l-1.9-1.7l-1.6-1.7l-2.5-3.8l-1.7-4l-1.9-7.5l-.3-2.5l0-3l.6-4l1.5-3.5l1.2-2l1.5-2l3.1-3l2-1.5l2-1.1l4.5-2.1l4.5-1.2z" fill="#50ffa7"/><path d="M123.1 245l5.4-.3l4.5 .6l2.5 .8l2.5 1l4 2.3l1.5 1.2l1.4 1.4l1.9 3l1.2 3.2l.7 4.8l0 5l-.6 6l-1.5 4.5l-2.1 3.7l-1.5 1.8l-2.5 2.4l-2.5 1.9l-2 1.3l-2 .9l-2 .7l-2.5 .6l-2.5 .3l-2.5 .1l-2.5-.2l-2.5-.4l-2.5-.8l-2.5-1l-2-1.1l-3.4-2.7l-1.6-1.7l-1.4-1.8l-1.9-3.5l-.9-2.5l-1.7-6l-.4-3l0-3.5l.6-3.5l1.9-4l2.8-3.6l3.5-3l4-2.2l4.5-1.7z" fill="#49ffad"/><path d="M124 246l4.5-.2l4.5 .5l4.5 1.4l2.5 1.2l2 1.3l2.6 2.3l1.9 3l1.4 3.5l.6 4.5l0 4.5l-.6 5.5l-.8 2.5l-1 2.5l-2.1 3.4l-1.5 1.7l-2 1.8l-4 2.7l-4 1.7l-2 .5l-3 .5l-2.5 0l-2.5-.1l-4.5-1.1l-4-1.8l-2-1.3l-2-1.7l-2.7-3.3l-1.9-3.5l-2.4-7.5l-.5-3l0-3.5l.6-3.5l2.2-4l2.4-3l2.3-2.1l5-2.9l4.5-1.6z" fill="#43ffb4"/><path d="M123 247l4.5-.5l4.5 .3l4 1l2.5 1l2 1.1l2.9 2.1l2.1 2.6l1.7 3.4l.9 3.5l.3 2.5l0 2.5l-.6 6l-1.3 3.9l-1.8 3.6l-1.2 1.6l-1.5 1.6l-3.5 2.8l-4 2.2l-4 1.2l-2.5 .3l-2.5 .1l-4.5-.6l-2-.5l-2.5-1l-3.5-2.1l-3-2.7l-2.4-3.4l-1.4-3l-2.2-6.5l-.4-5l.4-3.5l.3-1l1-2l2.1-3l2.6-2.7l4.5-2.9l4-1.8z" fill="#3cffba"/><path d="M123.9 247.5l4.6-.4l4 .4l4 1.1l4 1.9l2.7 2l2.3 2.9l1.7 3.6l.8 3.5l.2 2.5l0 2.5l-.8 5.5l-1.6 4l-1.8 3.1l-1.5 1.8l-1.5 1.5l-3.5 2.5l-4 1.9l-4 1l-4.5 .1l-4.5-.7l-4-1.5l-3.3-2.2l-3.2-3.2l-1.9-2.8l-1.3-3l-1.7-5l-.4-1.5l-.2-4.5l.2-2l.5-2l1.7-3l2-2.5l1.1-1.2l2.5-1.8l3-1.8l4-1.7z" fill="#36ffc1"/><path d="M124.4 248l4.1-.3l4.5 .5l4 1.1l3.5 1.8l1.5 1l1.5 1.4l2 2.6l1.6 3.4l.8 3.5l.1 4.5l-.8 5l-1.3 3.5l-2.1 3.5l-1.3 1.6l-1.5 1.5l-3.5 2.6l-4 1.9l-4 1l-4.5 .1l-4-.6l-4-1.6l-3.5-2.3l-2.5-2.5l-1-1.2l-1.2-2l-1-2l-2-5.5l-.4-2l-.2-4l.6-3.5l1.6-3l2.1-2.7l4-3.2l3-1.7l4-1.6z" fill="#30ffc7"/><path d="M124.6 248.5l4.4-.3l4 .5l4 1.2l3.5 1.8l2.5 1.9l2.3 2.9l1.6 3l.8 3.5l.1 4.5l-.8 4.8l-1.3 3.2l-2.2 3.7l-1.5 1.7l-1.5 1.4l-3.5 2.5l-3.5 1.7l-4 .9l-4 .2l-4-.6l-3.5-1.3l-2-1.1l-1.6-1.1l-2.4-2.3l-2.4-3.2l-1.2-2.5l-2-5l-.4-2l-.2-4l.6-3.5l1.3-2.5l2.3-2.9l.5-.1l1.5-1.5l2-1.5l3-1.7l3.5-1.4z" fill="#29ffce"/><path d="M124.6 249l4.4-.3l4 .5l4 1.2l3.5 1.8l2.5 1.9l2.3 2.9l1.5 3l.7 3l.2 2l-.1 2.5l-.8 4.5l-1.3 3.3l-2 3.2l-1.5 1.8l-1.5 1.4l-3.5 2.5l-3.5 1.6l-4 1l-4 .1l-4-.6l-3.5-1.3l-3.1-2l-2.4-2.3l-2.5-3.3l-3-6.9l-.4-2l-.2-4l.6-3.5l1.3-2.5l1.7-2.2l.5 .1l3-2.9l3.5-2.1l3.5-1.5z" fill="#23ffd4"/><path d="M124.6 249.5l3.9-.3l4 .4l4 1.1l3.5 1.6l2.5 1.9l2.5 2.8l1.5 3l.8 3l.1 4l-.7 4.5l-1.2 3.2l-2.1 3.3l-1.4 1.7l-1.5 1.4l-3.5 2.5l-3.5 1.6l-4 1l-4 .1l-3.5-.5l-3.5-1.3l-3-1.9l-2.7-2.6l-1.2-1.5l-1.1-2l-.5-.4l-2.5-5.6l-.3-1.5l-.3-4l.5-3.5l.5-1.5l2.1-2.9l.5 .2l1.5-1.7l1.5-1.4l3.5-2.3l4-1.6z" fill="#1cffdb"/><path d="M124.4 250l4.1-.4l4 .4l4 1.1l3.5 1.6l2.5 1.9l2.1 2.4l1.7 3l.8 3l.1 4l-.7 4.4l-1 2.7l-2.1 3.4l-2.4 2.7l-3.5 2.6l-4 1.9l-3.5 .9l-4 .2l-3.5-.5l-3-1l-3.1-1.8l-2.3-2l-2-2.5l-1.6-3.2l-.5 0l-2-4.3l-.3-1l-.3-4l.3-3.5l.4-1.5l1.9-2.7l.5 .5l1.4-1.8l1.5-1.5l1.6-1.3l2-1.2l3.5-1.5z" fill="#16ffe1"/><path d="M123.9 250.5l3.6-.4l4 .1l4 .9l3.5 1.5l2.9 1.9l2.1 2.1l1.8 2.9l1 3l.3 3.5l-.6 4.4l-1 3.1l-2 3.3l-2.5 2.9l-3 2.3l-3.5 1.8l-3.5 1.1l-3.5 .4l-3.5-.3l-3.5-.9l-3.1-1.6l-2.4-1.9l-1.9-2.1l-1.5-2.5l-1.1-2.9l-.5 .4l-1.8-3.5l-.4-4l.2-3l.6-2.5l1.4-2.1l.5 .9l1.2-1.8l1.3-1.5l2-1.7l2-1.3l3-1.4z" fill="#0ff8e7"/><path d="M126.6 250.5l3.4-.1l4 .6l3.5 1.2l3 1.6l2.5 2.1l2 2.7l1.3 2.9l.6 3l-.3 4l-.8 3.5l-1.5 3l-2.3 3.2l-3 2.7l-3.5 2.1l-3.5 1.2l-3.5 .6l-3.5-.1l-3.5-.8l-3-1.3l-2.8-2.1l-1.5-1.5l-1.4-2l-1-2l-1.3-3.3l-.5 .9l-.6-1.1l-.7-1.5l-.4-3.5l0-2.5l.4-2.5l.3-1l1-1.5l.5 1.4l1.4-2.4l1.6-1.8l2-1.7l2.5-1.6l4-1.5z" fill="#09f0ee"/><path d="M125.2 251l3.8-.3l3.5 .4l3.6 .9l3.4 1.6l2.5 1.8l2 2.2l1.7 2.9l.9 3l0 3.5l-.6 3.5l-1.1 3l-2.4 3.5l-2.5 2.6l-3.5 2.4l-3.4 1.5l-3.1 .7l-3 .2l-3.5-.4l-3-1l-3-1.6l-2.2-1.9l-1.6-2l-1.4-2.5l-1.8-4.8l-.5 1.7l-.9-1.9l-.2-1l-.3-3l.1-2.5l.7-3l.6-.9l.5 1.9l.9-2l1.4-2l1.4-1.5l1.8-1.4l2-1.2l2.5-1.2l2.5-.8z" fill="#02e8f4"/><path d="M124.3 251.5l3.7-.4l3.5 .2l3.5 .7l3.5 1.4l2.5 1.6l2.5 2.4l1.7 2.6l1.1 3l.2 3l-.5 3.5l-1.2 3.5l-1.8 2.8l-2.5 2.8l-3 2.3l-3 1.6l-3.5 1.1l-3.2 .4l-3.3-.2l-3-.8l-3-1.5l-2.6-2l-1.3-1.5l-1.1-1.5l-.8-1.5l-1.4-3.5l-.8-3.1l-.2 1.6l-.3 1.2l-.6-1.2l-.3-2.5l-.1-3l.3-2.5l.4-1.5l.3-.4l.5 2.8l.6-1.9l1.1-2l1.1-1.5l1.7-1.7l2-1.5l2-1.1l2.5-1z" fill="#00e0fb"/><path d="M126.6 251.5l3.9 0l3.5 .6l3.5 1.2l2.9 1.7l2.3 2l1.9 2.5l1.2 2.5l.5 3l-.3 3.5l-1.1 3.5l-1.4 2.6l-2.5 3l-3 2.4l-3.5 2l-3 1l-3.5 .5l-3.5-.2l-3-.8l-3-1.5l-2.5-2l-1.3-1.5l-1-1.5l-1.8-4l-1-3l-.3-3l.2-3l.9-2.5l1.3-2.1l2-2.2l2.5-1.8l2.8-1.4l3.2-1zM110 260.7l.5 4.3l-.2 3.5l-.3 2.1l-.4-1.6l-.3-3.5l.1-2z" fill="#00d8ff"/><path d="M125.4 252l3.6-.2l3.5 .3l3.2 .9l3.3 1.5l2.5 1.7l2.1 2.3l1.6 2.5l.8 3l0 3l-.8 3.5l-1.2 2.8l-2 2.7l-2.5 2.4l-3.5 2.3l-3 1.3l-3.5 .9l-3 .1l-3.5-.6l-3-1.1l-3-2l-2-2.1l-1.5-2.3l-1.7-3.9l-.8-3.5l-.2-2.5l.4-2.5l1.1-2.5l1.7-2.4l2.4-2.1l2.6-1.5l3-1.2zM110 261.8l.3 3.2l-.3 4.9l-.4-4.4z" fill="#00d0ff"/><path d="M124.5 252.5l3.5-.3l3.5 .2l3.5 .8l3 1.2l2.5 1.5l2.5 2.2l1.7 2.4l.9 2.5l.3 3l-.5 3l-1.1 3l-1.5 2.5l-2.3 2.6l-3 2.2l-3 1.6l-3.5 1.2l-3.5 .4l-3-.3l-3-.8l-3-1.6l-2.2-1.8l-1.8-2.2l-2-3.9l-1-3.1l-.4-2.8l.2-2.5l.8-2.5l1.4-2.3l2-2.1l2.5-1.7l3-1.4zM110 263.2l0 4.8l-.2-2.5z" fill="#00c8ff"/><path d="M123.9 253l3.1-.4l3.5 0l3.5 .7l3 1l3 1.6l2.5 2.1l1.6 2l1.2 2.5l.4 2.5l-.3 3l-.9 3l-1.5 2.8l-2 2.3l-2.5 2.1l-3 1.7l-3.5 1.3l-3.5 .7l-3-.1l-3-.6l-3-1.3l-2.5-1.8l-2-2.2l-2-3.6l-1-2.8l-.6-3l.1-2.5l.7-2.5l1.3-2.3l2-2.2l2.5-1.8l2.6-1.2z" fill="#00c0ff"/><path d="M126.5 253l3-.1l3.5 .5l3 .9l3.5 1.6l2.2 1.6l1.8 2l1.4 2.5l.5 2.5l-.1 3l-.9 3l-1.4 2.8l-2 2.3l-2.5 2.1l-3.5 2l-3 1l-3.5 .6l-3-.1l-3.5-.8l-2.5-1.1l-2.4-1.8l-2.1-2.4l-1.8-3.1l-.9-2.5l-.6-3l0-2.5l.8-2.5l1.1-2l1.8-2l2.6-1.9l2.5-1.2l3-.9z" fill="#00b8ff"/><path d="M125.4 253.5l3.6-.2l3.5 .4l3 .7l3 1.3l2.5 1.6l1.8 1.7l1.4 2l.9 2.5l.2 2.5l-.6 3l-1.2 2.9l-1.5 2.2l-2.5 2.4l-2.5 1.7l-3 1.4l-3 .9l-3 .3l-3-.2l-3-.7l-3-1.5l-2-1.6l-1.9-2.3l-2-3.5l-.9-3l-.3-3l.3-2l.8-2l1.5-2.1l2.5-2.2l2.5-1.5l3-1.1z" fill="#00b0ff"/><path d="M124.5 254l3-.4l3.5 .2l3 .5l3 1l3 1.5l2 1.7l1.6 2l1 2l.5 2.5l-.2 2.5l-.8 2.5l-1.3 2.5l-1.8 2.2l-2 1.7l-2.5 1.6l-2.5 1.1l-3 .9l-3.5 .3l-3.5-.4l-3-1l-2.5-1.4l-2-1.8l-2.3-3.2l-1.2-2.5l-.7-3l-.1-2.5l.7-2.5l1.1-2l2-2.2l2.5-1.7l3-1.3z" fill="#00a8ff"/><path d="M127 254l3 0l3.5 .5l3 .9l3 1.4l2.2 1.7l1.7 2l1 2l.5 2.5l-.2 2.5l-.8 2.5l-1.4 2.5l-2 2.2l-2.5 1.9l-3 1.6l-3 1.1l-3.5 .5l-3-.1l-3-.7l-2.5-1.1l-2.5-1.8l-1.9-2.1l-1.8-3l-.9-2.5l-.4-2.5l.1-2.5l.8-2l1.3-2l1.6-1.5l2.2-1.5l2.5-1.2l3-.9z" fill="#00a0ff"/><path d="M125.1 254.5l2.9-.3l3 .1l3 .6l3 .9l2.5 1.3l2 1.5l1.6 1.9l1.1 2l.4 2l-.1 2.5l-.7 2.5l-1.3 2.5l-1.5 1.8l-2 1.7l-2.5 1.5l-2.5 1.2l-3.5 .9l-3 .2l-3-.3l-3-.9l-2.5-1.3l-2-1.7l-2.3-3.1l-1.2-2.5l-.7-2.5l-.1-2.5l.7-2.5l1.3-2l1.8-1.8l2.5-1.7l3-1.2z" fill="#0098ff"/><path d="M127.9 254.5l3.1 .1l3 .5l3 1l2.5 1.3l2.1 1.6l1.6 2l.9 2l.4 2.5l-.4 2.5l-1 2.5l-1.6 2.4l-2 1.8l-3 1.9l-3 1.3l-3.5 .8l-3 .1l-2.5-.3l-2.5-.7l-2.5-1.2l-2-1.6l-2.1-2.5l-1.4-2.4l-.8-2.6l-.2-2.5l.3-2l1-2l1.2-1.6l2-1.7l2.5-1.4l2.5-.9l2.5-.6z" fill="#0090ff"/><path d="M125.4 255l2.6-.2l2.5 0l2.5 .4l2.5 .6l2.5 1l2 1.2l1.8 1.5l1.1 1.5l.8 1.5l.5 2l0 2l-.5 2l-.9 2l-1.3 1.9l-1 1.1l-2 1.5l-3 1.7l-3.5 1.2l-3.5 .5l-3-.2l-3-.7l-3-1.5l-2-1.6l-2.4-2.9l-1.2-2.5l-.6-3l.2-2.5l1-2.4l1.8-2.1l2.7-1.9l3-1.3z" fill="#0088ff"/><path d="M124.1 255.5l2.4-.4l2.5-.1l2.5 .2l2.5 .4l2.5 .8l2 .9l2 1.3l1.4 1.4l1.1 1.5l.7 1.5l.3 1.5l0 2l-.5 2l-.9 2l-1.1 1.5l-1.4 1.5l-2.6 1.8l-3.5 1.6l-3.5 .8l-3 .2l-3.5-.4l-3-1.1l-2.5-1.6l-2-2l-1.6-2.3l-1.2-3l-.2-2.5l.6-2.5l.8-1.5l.8-1l2.3-2l3-1.6z" fill="#0080ff"/><path d="M125.4 255.5l2.1-.2l2.5 0l2.5 .3l2.5 .5l2 .7l2 1.1l1.6 1.1l1.5 1.5l.9 1.5l.6 1.5l.2 1.5l-.1 2l-.7 2l-.7 1.5l-1.3 1.7l-1.5 1.4l-3 1.8l-3.5 1.4l-3 .6l-3.5 0l-3-.5l-3-1.2l-2-1.4l-2.5-2.6l-1.5-2.6l-.7-2.6l.1-2.5l1-2.5l1.6-2l2.5-1.8l3-1.4z" fill="#0078ff"/><path d="M127.6 255.5l2.9 0l3 .5l2.5 .7l2.5 1.1l2 1.4l1.5 1.6l1 1.7l.5 2l0 2l-.5 2l-1.1 2l-1.9 2.3l-2 1.5l-2.5 1.2l-2.5 .9l-2.5 .5l-3 .2l-2.5-.3l-2.5-.7l-2.5-1.2l-2.5-2l-1.7-1.9l-1.1-2l-.6-2.5l-.1-2l.6-2l1.3-2l1.6-1.5l2-1.3l2.5-1.1l3-.8z" fill="#0070ff"/><path d="M125.2 256l2.3-.3l2.5 0l4.5 .7l2 .7l2 1l1.5 1l1.5 1.4l1 1.5l.6 1.5l.2 1.5l-.1 1.5l-.3 1.5l-.9 1.9l-1 1.4l-1.5 1.5l-2.5 1.7l-3.5 1.4l-3.5 .7l-3 .1l-3-.5l-3-1.1l-2-1.3l-2.4-2.3l-1.6-2.5l-.7-2.5l.1-2.5l.7-2l1.6-2l2.3-1.8l3-1.4z" fill="#0068ff"/><path d="M126.8 256l2.2-.1l2.5 .2l2.4 .4l2.1 .7l1.9 .8l1.6 1l1.5 1.3l.9 1.2l.8 1.5l.3 1.5l.1 1.5l-.3 1.5l-.8 1.8l-1 1.5l-1.5 1.6l-1.4 1.1l-3.1 1.5l-3 .9l-3.5 .5l-3-.2l-3-.8l-2.5-1.3l-2.5-2l-1.5-1.9l-1.1-2.2l-.4-2.5l.1-1.5l.3-1l1.1-1.9l2-1.9l2.5-1.5l3-1.1z" fill="#0060ff"/><path d="M124.9 256.5l4.1-.4l2.5 .2l2 .3l2 .6l2 .8l1.6 1l1.4 1.1l1 1.2l.7 1.2l.5 1.5l.1 1.5l-.2 1.5l-.5 1.5l-.9 1.5l-1.2 1.5l-2 1.6l-3 1.6l-3 .9l-3.5 .4l-3-.2l-3-.8l-2.5-1.3l-2.5-2l-1.6-2.2l-1-2.5l-.1-2.5l.6-2l1.4-2l2.2-1.8l2.5-1.2z" fill="#0058ff"/><path d="M126.2 256.5l4.3-.1l4 .7l3.5 1.5l1.5 1l1.4 1.4l.7 1l.7 1.5l.2 1.5l-.1 1.5l-.4 1.5l-.8 1.5l-1.2 1.5l-1 1l-2.3 1.5l-3.2 1.3l-3.5 .7l-3 .1l-3-.5l-2.5-1l-2.5-1.5l-2-1.9l-1.3-2.2l-.7-2.5l.1-2l.9-2.1l1.7-1.9l2.3-1.6l3-1.2z" fill="#0050ff"/><path d="M124.6 257l4.4-.4l4 .4l3.5 1.1l1.7 .9l1.3 .9l1.8 2.1l.7 1.5l.2 1l0 1.5l-.3 1.5l-1.4 2.5l-2 1.9l-2.5 1.5l-3 1.1l-3 .6l-3 .1l-3-.5l-2.5-1l-2.7-1.7l-1.8-1.8l-1.3-2.2l-.5-2.5l.3-2l1.1-2l2.1-2l2.7-1.5z" fill="#0048ff"/><path d="M126 257l4-.2l4 .7l3.5 1.4l2.5 1.8l1 1.3l.5 1l.3 1l.2 1.5l-.2 1.5l-.4 1l-.9 1.5l-1 1.1l-2 1.6l-3 1.5l-3 .8l-3 .3l-3-.2l-2.5-.7l-3-1.4l-2-1.6l-1.5-2l-.9-2.4l0-2l.6-2l1.6-2l2.1-1.5l3.1-1.3z" fill="#0040ff"/><path d="M124.6 257.5l3.9-.4l4 .3l3.5 1l2.8 1.6l1.9 2l.5 1l.4 1.5l.1 1l-.3 1.5l-.4 1.1l-.9 1.4l-1.6 1.6l-2.5 1.5l-3 1.1l-3 .6l-3 0l-3-.5l-2.5-.9l-2.3-1.4l-2-2l-1-2l-.4-2l.3-2l1.2-2l1.7-1.6l2.5-1.4z" fill="#0038ff"/><path d="M125.9 257.5l3.6-.2l3.5 .5l3.5 1.1l2.5 1.6l1.6 2l.5 1l.3 1.5l-.1 1.5l-.3 1l-1.5 2.3l-2 1.6l-2.5 1.3l-3 .9l-3 .4l-3-.2l-2.5-.5l-2.5-1.1l-2.4-1.7l-1.6-2l-.8-2l0-2l.7-2l1.6-1.9l2-1.3l2.5-1.1z" fill="#0030ff"/><path d="M124.6 258l3.9-.5l3.5 .3l3 .8l3 1.5l2 1.9l.9 2l.2 1l-.1 1.5l-1 2.1l-1.5 1.7l-2 1.3l-2.5 1.1l-3 .7l-3 .2l-3-.4l-2.5-.7l-2.5-1.3l-1.9-1.7l-1.2-2l-.5-2l.4-2l1.2-2l1.5-1.3l2.5-1.4z" fill="#0028ff"/><path d="M126 258l3.5-.2l3.5 .5l3 1l2.5 1.6l1 1l.7 1.1l.6 2l-.3 2l-1.2 2l-1.6 1.5l-2.2 1.3l-3 1l-3 .4l-3-.1l-2.5-.5l-2.5-.9l-2-1.3l-1.5-1.6l-1-1.8l-.2-2l.5-2l1.2-1.6l2-1.5l2.5-1.2z" fill="#0020ff"/><path d="M124.7 258.5l3.3-.4l3.5 .2l3.1 .7l2.9 1.4l1.7 1.6l1.1 2l.1 2l-.2 1l-.7 1.3l-1.5 1.6l-2 1.3l-2.5 1l-2.5 .5l-3 .2l-2.5-.3l-2.5-.7l-2.5-1.2l-1.9-1.7l-1-1.5l-.5-2l.2-1.5l1.1-2l1.6-1.5l2-1.1z" fill="#0018ff"/><path d="M126.1 258.5l3.4-.2l3 .4l3 1l2.3 1.3l1.4 1.5l.9 2l-.1 2l-1 2l-1.5 1.4l-2 1.2l-2.5 .9l-3 .5l-3 0l-2.5-.4l-2.5-.9l-1.9-1.2l-1.6-1.7l-.9-1.8l-.1-2l.6-1.5l1.2-1.5l2.1-1.5l2.1-.9z" fill="#0010ff"/><path d="M124.9 259l3.1-.4l3.5 .2l3 .7l2.5 1.3l1.5 1.3l1.1 1.9l.2 1l0 1l-.8 1.9l-1.5 1.6l-1.5 1l-2.5 1l-2.5 .6l-3 .2l-2.5-.3l-2.5-.8l-2-1l-1.5-1.2l-1.1-1.5l-.6-2l.2-1.5l.8-1.5l1.6-1.5l2.1-1.2z" fill="#0008ff"/><path d="M126.4 259l2.6-.2l3 .3l2.9 .9l2.1 1.1l1.5 1.5l.6 .9l.3 1l.1 1l-.2 1l-.8 1.5l-1.5 1.5l-2 1.2l-2.5 .8l-2.5 .4l-2.5 0l-2.5-.4l-2.5-.8l-1.9-1.2l-1.5-1.5l-.7-1.5l-.2-1l.1-1l.6-1.5l1.1-1.3l1.7-1.2l2.3-1z" fill="#0000ff"/><path d="M125.2 259.5l2.8-.4l3 .1l3 .7l2.3 1.1l1.7 1.4l.9 1.6l.3 1l-.1 1l-.6 1.5l-1.3 1.5l-1.7 1.1l-2 .8l-2.5 .6l-2.5 .1l-2.5-.2l-2-.5l-2.1-.9l-1.9-1.5l-1-1.4l-.4-1.6l.2-1.5l.9-1.5l1.3-1.2l2-1.1z" fill="#0000ff"/><path d="M126.7 259.5l2.8-.1l2.5 .3l2.5 .7l2 1.1l1.6 1.5l.7 1.5l0 1.5l-.7 1.5l-1.1 1.3l-2 1.2l-2 .8l-2.5 .5l-2.5 0l-2.5-.3l-2-.6l-2-1.1l-1.5-1.3l-.8-1.5l-.2-1.5l.4-1.5l1.1-1.4l1.5-1.1l2-.9z" fill="#0000ff"/><path d="M125.4 260l2.6-.4l2.5 .1l2.5 .5l2.5 1l1.8 1.3l1 1.5l.2 1.5l-.4 1.5l-1.1 1.4l-1.5 1.1l-2 .8l-2 .5l-2.5 .3l-2.5-.2l-2-.5l-2-.8l-1.5-1.1l-1-1.2l-.6-1.3l.1-1.5l.7-1.5l1.3-1.3l2-1.1z" fill="#0000f6"/><path d="M126.8 260l2.7-.1l2.5 .3l2 .5l2 1.1l1.3 1.2l.8 1.5l0 1.5l-.7 1.5l-1.4 1.3l-1.5 .9l-2 .6l-2.5 .5l-2.5-.1l-2-.3l-2-.7l-1.5-.8l-1-.9l-1-1.5l-.2-1.5l.5-1.5l1.2-1.4l1.5-1l2-.7z" fill="#0000ed"/><path d="M125.6 260.5l2.4-.4l2.5 .1l2.5 .5l2 .8l1.5 1l1.1 1.5l.3 1.5l-.5 1.5l-.9 1.1l-1.5 1l-2 .8l-2 .5l-2.5 .1l-2-.2l-2-.5l-1.5-.6l-1.5-1.1l-.9-1.1l-.4-1l.1-1.5l.7-1.4l1.1-1.1l1.4-.8z" fill="#0000e3"/><path d="M126.8 260.5l2.2-.2l2.5 .3l2 .5l1.9 .9l1.2 1l.8 1.5l.1 1.1l-.5 1.4l-.9 1l-1.5 1l-1.6 .7l-2 .4l-2.5 .2l-2-.2l-2-.6l-1.5-.7l-1.5-1.2l-.7-1.1l-.2-1.5l.2-1l.7-1l1.5-1.2l1.8-.8z" fill="#0000da"/><path d="M125.6 261l2.4-.4l2 0l2 .3l2 .7l1.6 .9l1.3 1.5l.2 1l-.2 1.5l-.7 1l-1.2 1l-1.5 .7l-2 .6l-2 .2l-2-.1l-2-.3l-1.5-.6l-1.5-.9l-1-1.1l-.5-1l0-1.5l.5-1l1-1l1.5-.9z" fill="#0000d1"/><path d="M126.8 261l2.2-.2l2 .2l2 .5l1.3 .5l1.4 1l.7 1l.4 1l-.3 1.5l-.8 1l-1.3 1l-1.4 .6l-2 .5l-2 .2l-2-.2l-2-.5l-1.4-.6l-1.3-1l-.7-1l-.3-1.5l.3-1l.8-1l1.1-.8l1.5-.7z" fill="#0000c8"/><path d="M125.8 261.5l2.2-.4l2 0l2 .3l1.6 .6l1.6 1l.8 1l.3 1.5l-.3 1l-.8 1l-1.2 .8l-1.5 .7l-1.5 .3l-1.9 .2l-1.6-.1l-2-.4l-1.2-.5l-.9-.5l-1.1-1l-.5-1l-.1-1l.4-1l.8-1l1.5-1z" fill="#0000bf"/><path d="M127.1 261.5l1.9-.1l1.9 .1l1.6 .4l1.3 .6l1.3 1l.6 1l.1 1l-.3 1l-.9 1l-.7 .5l-1.4 .6l-2 .5l-2 .1l-1.5-.1l-1.5-.4l-1.5-.7l-1.2-1l-.5-1l-.1-1l.3-1l.9-1l.7-.5l1.4-.6z" fill="#0000b6"/><path d="M126.2 262l1.8-.3l1.5 0l2 .3l1.5 .5l1 .6l.8 .9l.4 1l-.1 1l-.6 .9l-.6 .6l-1.4 .7l-1.5 .5l-3 .2l-1.5-.3l-1.5-.5l-1.1-.6l-.9-.9l-.3-.6l-.1-1l.4-1l1-1z" fill="#0000ad"/><path d="M125.9 262.5l1.6-.4l1.5-.1l1.5 .2l1.5 .4l1 .5l1.1 .9l.5 1l-.1 1l-.5 .7l-1 .8l-2 .8l-2.8 .2l-2.5-.5l-1.2-.6l-.9-.9l-.4-1l0-.5l.3-.8l.6-.7z" fill="#0000a4"/><path d="M128.3 262.5l2.7 .3l2 .9l.7 .8l.2 .5l-.1 1l-.4 .5l-1.5 1l-2.4 .5l-2.5-.1l-2.1-.9l-.5-.5l-.5-1l.1-.9l.4-.6l1.6-1z" fill="#00009b"/><path d="M128 263l2 0l2 .7l1 .8l.2 1l-.2 .5l-1.2 1l-1.8 .5l-2 0l-2-.5l-1.1-1l-.2-.5l.2-1l1.3-1z" fill="#000092"/><path d="M128.1 263.5l1.9 0l1.5 .5l.6 .5l.3 .5l.1 .5l-.3 .5l-1.2 .8l-1.5 .3l-1.7-.1l-1.4-.5l-.5-.5l-.3-.5l0-.5l.3-.5l.6-.5z" fill="#000089"/><path d="M130 264.1l1 .4l.5 .5l0 .5l-.5 .6l-1.5 .4l-1.2 0l-1.2-.5l-.4-.5l0-.5l.3-.4l1-.5z" fill="#000080"/></g>
<path d="M170.64 430.85L186.32 427.77M201.39 418.62L215.28 403.78M227.45 383.79L237.44 359.45M244.87 331.67L249.44 301.53M250.5 270.18L250.5 260.54M249.44 229.19L244.87 199.05M237.44 171.27L227.45 146.93M215.28 126.94L201.39 112.1M186.32 102.95L170.64 99.87M150.56 99.5L130.48 99.5M114.8 102.95L99.73 112.1M85.84 126.94L73.67 146.93M63.68 171.27L56.25 199.05M51.68 229.19L50.14 260.54M50.14 270.18L51.68 301.53M56.25 331.67L63.68 359.45M73.67 383.79L85.84 403.78M99.73 418.62L114.8 427.77M130.48 430.5L150.56 430.5" fill="none" stroke="#000" stroke-width="0.69" stroke-linecap="round"/>
<path d="M186.32 427.77L201.39 418.62M215.28 403.78L227.45 383.79M237.44 359.45L244.87 331.67M249.44 301.53L250.98 270.18M250.98 260.54L249.44 229.19M244.87 199.05L237.44 171.27M227.45 146.93L215.28 126.94M201.39 112.1L186.32 102.95M170.64 99.5L150.56 99.5M130.48 99.87L114.8 102.95M99.73 112.1L85.84 126.94M73.67 146.93L63.68 171.27M56.25 199.05L51.68 229.19M50.5 260.54L50.5 270.18M51.68 301.53L56.25 331.67M63.68 359.45L73.67 383.79M85.84 403.78L99.73 418.62M114.8 427.77L130.48 430.85M150.56 430.5L170.64 430.5" fill="none" stroke="#000" stroke-width="0.69" stroke-linecap="round"/>
<path d="M170.64 430.85L186.32 427.77M186.32 427.77L201.39 418.62M201.39 418.62L215.28 403.78M215.28 403.78L227.45 383.79M227.45 383.79L237.44 359.45M237.44 359.45L244.87 331.67M244.87 331.67L249.44 301.53M249.44 301.53L250.98 270.18M250.5 270.18L250.5 260.54M250.98 260.54L249.44 229.19M249.44 229.19L244.87 199.05M244.87 199.05L237.44 171.27M237.44 171.27L227.45 146.93M227.45 146.93L215.28 126.94M215.28 126.94L201.39 112.1M201.39 112.1L186.32 102.95M186.32 102.95L170.64 99.87M170.64 99.5L150.56 99.5M150.56 99.5L130.48 99.5M130.48 99.87L114.8 102.95M114.8 102.95L99.73 112.1M99.73 112.1L85.84 126.94M85.84 126.94L73.67 146.93M73.67 146.93L63.68 171.27M63.68 171.27L56.25 199.05M56.25 199.05L51.68 229.19M51.68 229.19L50.14 260.54M50.5 260.54L50.5 270.18M50.14 270.18L51.68 301.53M51.68 301.53L56.25 331.67M56.25 331.67L63.68 359.45M63.68 359.45L73.67 383.79M73.67 383.79L85.84 403.78M85.84 403.78L99.73 418.62M99.73 418.62L114.8 427.77M114.8 427.77L130.48 430.85M130.48 430.5L150.56 430.5M150.56 430.5L170.64 430.5" fill="none" stroke="#000" stroke-width="0.69" stroke-opacity="0.6"/>
<g fill="#000" fill-opacity="0.55"><circle cx="170.64" cy="430.85" r="0.75"/><circle cx="186.32" cy="427.77" r="0.75"/><circle cx="201.39" cy="418.62" r="0.75"/><circle cx="215.28" cy="403.78" r="0.75"/><circle cx="227.45" cy="383.79" r="0.75"/><circle cx="237.44" cy="359.45" r="0.75"/><circle cx="244.87" cy="331.67" r="0.75"/><circle cx="249.44" cy="301.53" r="0.75"/><circle cx="250.98" cy="270.18" r="0.75"/><circle cx="250.98" cy="260.54" r="0.75"/><circle cx="249.44" cy="229.19" r="0.75"/><circle cx="244.87" cy="199.05" r="0.75"/><circle cx="237.44" cy="171.27" r="0.75"/><circle cx="227.45" cy="146.93" r="0.75"/><circle cx="215.28" cy="126.94" r="0.75"/><circle cx="201.39" cy="112.1" r="0.75"/><circle cx="186.32" cy="102.95" r="0.75"/><circle cx="170.64" cy="99.87" r="0.75"/><circle cx="150.56" cy="99.87" r="0.75"/><circle cx="130.48" cy="99.87" r="0.75"/><circle cx="114.8" cy="102.95" r="0.75"/><circle cx="99.73" cy="112.1" r="0.75"/><circle cx="85.84" cy="126.94" r="0.75"/><circle cx="73.67" cy="146.93" r="0.75"/><circle cx="63.68" cy="171.27" r="0.75"/><circle cx="56.25" cy="199.05" r="0.75"/><circle cx="51.68" cy="229.19" r="0.75"/><circle cx="50.14" cy="260.54" r="0.75"/><circle cx="50.14" cy="270.18" r="0.75"/><circle cx="51.68" cy="301.53" r="0.75"/><circle cx="56.25" cy="331.67" r="0.75"/><circle cx="63.68" cy="359.45" r="0.75"/><circle cx="73.67" cy="383.79" r="0.75"/><circle cx="85.84" cy="403.78" r="0.75"/><circle cx="99.73" cy="418.62" r="0.75"/><circle cx="114.8" cy="427.77" r="0.75"/><circle cx="130.48" cy="430.85" r="0.75"/><circle cx="150.56" cy="430.85" r="0.75"/></g>
<path d="M50.14 269.98H250.98" stroke="#000" stroke-opacity="0.6" stroke-width="1.55"/>
<g fill="#000" fill-opacity="0.75"><circle cx="50.36" cy="270.18" r="0.9"/><circle cx="67.01" cy="270.18" r="0.9"/><circle cx="79.54" cy="270.18" r="0.9"/><circle cx="94.97" cy="270.18" r="0.9"/><circle cx="107.82" cy="270.18" r="0.9"/><circle cx="206.15" cy="270.18" r="0.9"/><circle cx="221.26" cy="270.18" r="0.9"/><circle cx="234.11" cy="270.18" r="0.9"/><circle cx="250.66" cy="270.18" r="0.9"/></g>
<rect x="110.39" y="260.54" width="80.34" height="9.64" fill="none" stroke="#000" stroke-width="1.39"/>
<path d="M191.43 260.24V270.68" stroke="#000" stroke-width="0.9"/>
<path d="M40.5 83.5V447.5H261.5V83.5Z" fill="none" stroke="#000" stroke-width="1.111" stroke-linejoin="miter" stroke-linecap="square"/>
<rect x="266.5" y="83.5" width="11.0" height="364.0" fill="url(#jet)"/>
<path d="M266.5 83.5V447.5H277.5V83.5Z" fill="none" stroke="#000" stroke-width="1.111" stroke-linecap="square"/>
<path d="M86.5 447.5v4.86M151.5 447.5v4.86M215.5 447.5v4.86M40.5 399.5h-4.86M40.5 334.5h-4.86M40.5 270.5h-4.86M40.5 206.5h-4.86M40.5 142.5h-4.86M277.5 125.5h4.86M277.5 171.5h4.86M277.5 218.5h4.86M277.5 265.5h4.86M277.5 312.5h4.86M277.5 359.5h4.86M277.5 406.5h4.86" stroke="#000" stroke-width="1.111"/>
<path d="M491.69 430.85 L507.36 427.77 L522.43 418.62 L536.32 403.78 L548.49 383.79 L558.48 359.45 L565.91 331.67 L570.48 301.53 L572.02 270.18 L572.02 260.54 L570.48 229.19 L565.91 199.05 L558.48 171.27 L548.49 146.93 L536.32 126.94 L522.43 112.1 L507.36 102.95 L491.69 99.87 L471.6 99.87 L451.52 99.87 L435.84 102.95 L420.77 112.1 L406.88 126.94 L394.71 146.93 L384.72 171.27 L377.3 199.05 L372.72 229.19 L371.18 260.54 L371.18 270.18 L372.72 301.53 L377.3 331.67 L384.72 359.45 L394.71 383.79 L406.88 403.78 L420.77 418.62 L435.84 427.77 L451.52 430.85 L471.6 430.85Z" fill="#9dff5a"/>
<g clip-path="url(#cp1)"><path d="M427.8 244l2.2-.1l2 .3l1.5 .5l2 1.3l1.5 1.4l1.1 1.6l1 2l.5 2l.1 2l-.3 2l-.8 2l-.9 1.5l-4.3 .5l-.9 .8l-1 .4l-.5 2l-1.5 0l-2-.5l-2-1.1l-1.5-1.1l-1.3-1.5l-1.3-2l-.7-1.5l-.6-2l-.1-2l.3-1.5l.5-1.5l.8-1.5l1.4-1.6l1.5-1.1l1.5-.8zM512 244l2-.2l2 .3l2 .8l1.5 .9l1.5 1.4l1.2 1.8l.6 1.5l.4 2l-.1 2l-.6 2l-.9 2l-1.5 2l-1.5 1.5l-1.6 1.1l-2 .8l-2 .3l-1 0l-.5-2.1l-1-.4l-.7-.7l-4.3-.5l-1.4-2.5l-.4-1.5l-.2-1.5l.1-2l.5-2l.9-1.9l1-1.4l1.5-1.6l1.5-1l1.5-.7z" fill="#a4ff53"/><path d="M427.9 250.5l1.6-.4l1.5-.1l1.5 .2l1.5 .6l1.5 1.1l1 1.1l.6 1l.5 1.5l.1 2.5l-.4 1.5l-.5 1l-4 .5l-1.3 .7l-.5 2.2l-2.5-.3l-2.1-1.1l-1.5-1.5l-.7-1l-.5-1.5l-.2-2.5l.4-1.5l.5-1l1.6-1.9zM510 250.5l2.5-.5l1.5 .1l1.5 .5l2 1.2l1 1.2l.6 1l.5 1.5l.1 1l-.1 1.5l-.4 1.5l-1.3 2l-1.1 1l-1.3 .8l-1.5 .5l-2 .1l-.5-2.2l-1.1-.7l-4-.5l-.5-1l-.5-2.5l.2-1.5l.4-1.3l.7-1.2l.8-.9l1-.8z" fill="#aaff4d"/><path d="M428.6 252.5l.9-.3l1.5-.1l1.5 .2l1 .4l1 .6l1 1l.7 1.2l.4 1l.1 2l-.6 2l-4 .5l-.6 .3l-.5 2.3l-2-.2l-1.8-.9l-1.5-1.5l-.8-2l0-2l.7-2l1.4-1.6zM510.2 252.5l2.3-.4l2 .4l2 1.1l1.4 1.9l.5 2l-.1 1.5l-.3 1l-.5 1l-.9 1l-1.6 1.1l-1.5 .5l-1.5 0l-.5-2.4l-.4-.2l-4-.5l-.3-.5l-.3-1l-.1-1.5l.6-2l.6-1l.9-1z" fill="#b1ff46"/><path d="M429.5 253.5l2-.1l2 .6l1 .7l.7 .8l.5 1l.3 1l0 1.5l-.4 1.5l-4.1 .5l-.5 2.4l-2-.3l-1.5-.9l-1.1-1.2l-.7-2l.1-2l.8-1.5l1.4-1.3zM511 253.5l2-.1l2 .6l1.5 1.3l.9 1.7l.1 2l-.2 1l-.5 1l-1.3 1.4l-1.5 .7l-2 .3l-.5-2.4l-3.9-.5l-.2-.5l-.3-2l.6-2l1.3-1.5l1-.7z" fill="#b7ff40"/><path d="M429.2 254.5l1.8-.3l2 .4l1.5 1.2l.9 1.7l.1 1.5l-.4 1.5l-3.6 .5l-.5 2.1l-1.5-.2l-1.5-.7l-1.1-1.2l-.6-1.5l0-1.5l.5-1.5l1.2-1.3zM510.5 254.5l2-.3l1.5 .3l1.5 .9l1 1.4l.4 1.7l-.1 1.5l-.9 1.5l-1.4 1.1l-1 .4l-1.5 .1l-.5-2.2l-3.4-.4l-.4-1.5l0-1l.3-1l1-1.5z" fill="#beff39"/><path d="M429.7 255l1.8-.2l1.5 .5l.9 .7l.6 .7l.6 1.8l0 1l-.3 1l-3.3 .4l-.5 2l-1.5-.2l-1.3-.7l-.9-1l-.5-1.5l0-1.5l.7-1.4l1-1zM511 255l1.5-.2l1.5 .4l1.2 .8l1 1.5l.3 1.5l-.4 1.5l-1.1 1.5l-1.5 .8l-1.5 .1l-.5-2l-3.1-.4l-.2-.5l-.1-1.5l.4-1.5l1-1.2z" fill="#c4ff33"/><path d="M429.8 255.5l1.7-.2l1.5 .6l1.1 1.1l.6 1.5l0 1l-.3 1l-2.9 .4l-.5 1.8l-1.5-.3l-1-.5l-.8-.9l-.5-1.5l.1-1.5l.5-1l.7-.8zM511.1 255.5l1.4-.2l1.5 .4l1 .8l.9 1.5l.2 1l-.3 1.5l-.8 1.1l-1.5 .9l-1.5 .2l-.5-1.8l-2.7-.4l-.2-.5l-.2-1l.4-1.5l.7-1z" fill="#caff2c"/><path d="M429.6 256l1.4-.3l1.5 .4l1.2 .9l.7 1.5l0 1l-.3 1l-2.6 .4l-.5 1.6l-1-.1l-1-.5l-.9-.9l-.5-1l0-1.5l.3-1l.6-.8zM510.9 256l1.1-.3l1.5 .3l1 .6l1 1.4l.2 1.5l-.3 1l-.7 1l-1.2 .8l-1.5 .2l-.3-1.5l-.2-.2l-2.4-.3l-.3-1l.2-1.5l.5-1z" fill="#d1ff26"/><path d="M429.4 256.5l1.1-.4l1.5 .1l1.2 .8l.9 1.5l0 1l-.2 1l-2.4 .3l-.2 .2l-.3 1.3l-1-.1l-1-.6l-.6-.6l-.5-1l-.1-1l.3-1l.4-.7zM510.7 256.5l1.3-.4l1 .1l1 .4l.9 .9l.4 1l0 1.5l-.5 1l-.8 .8l-1 .4l-1 .1l-.3-1.3l-.2-.2l-2.2-.3l-.2-1l.2-1.5l.7-1z" fill="#d7ff1f"/><path d="M430.3 256.5l1.2 0l1 .3l1 1l.4 1.2l-.3 1.5l-2.1 .3l-.2 .2l-.3 1.1l-1-.1l-1-.6l-.7-.9l-.2-1l.1-1l.5-1l.8-.7zM511.5 256.5l1-.1l1 .3l1 .8l.5 1l.1 1l-.2 1l-.9 1l-1 .5l-1 .1l-.3-1.1l-.2-.2l-1.9-.3l-.2-.5l-.1-1l.3-1l.9-1z" fill="#deff19"/><path d="M429.8 257l1.2-.3l1 .2l.9 .6l.6 1l.2 1l-.3 1l-1.9 .3l-.3 .2l-.2 .9l-1.5-.4l-.6-.5l-.5-1l-.1-1l.2-.6l.5-.8zM511 257l1-.3l1 .1l1 .6l.5 .6l.4 1l-.1 1l-.5 1l-.8 .6l-1.5 .3l-.2-.9l-.3-.3l-1.7-.2l-.3-1l.2-1l.6-1z" fill="#e4ff13"/><path d="M430.5 257l1 0l1 .5l.5 .5l.4 1l-.2 1.5l-1.7 .2l-.3 .3l-.2 .8l-1-.2l-.8-.6l-.4-.5l-.2-1l.1-1l.3-.5l.5-.5zM512.5 257l1 .3l.7 .7l.4 1l0 1l-.6 1l-.7 .5l-.8 .3l-.5 0l-.2-.8l-.3-.3l-1.5-.2l-.2-1l.1-1l.3-.5l.8-.7z" fill="#ebff0c"/><path d="M429.9 257.5l1.1-.3l1 .2l.5 .4l.7 1.2l0 1l-.3 .5l-1.4 .2l-.4 .3l-.1 .6l-1-.2l-.5-.4l-.7-1l0-1l.5-1zM511.1 257.5l1.4-.3l1 .4l.5 .5l.4 .9l0 1l-.9 1.2l-.5 .3l-1 .1l-.1-.6l-.4-.3l-1.2-.2l-.3-.5l0-1l.5-1z" fill="#f1fc06"/><path d="M430.4 257.5l.6-.1l1 .3l.5 .4l.5 .9l0 1l-.3 .5l-1.2 .2l-.4 .3l-.1 .4l-1-.2l-.5-.4l-.5-1.3l.2-1l.3-.4zM511.6 257.5l1.4 .1l.6 .4l.6 1l0 1l-.3 .5l-.9 .8l-1 .1l-.1-.4l-.4-.4l-1-.1l-.3-.5l0-1l.2-.5l.6-.7z" fill="#f8f500"/><path d="M429.9 258l1.1-.4l1.1 .4l.7 1l0 1l-.3 .5l-1 .1l-.5 .7l-1-.3l-.5-.5l-.3-.5l0-1zM511.1 258l.9-.4l.5 .1l.8 .3l.5 .5l.2 .5l0 1l-.9 1l-1.1 .3l-.5-.7l-.8-.1l-.3-.5l0-1z" fill="#feed00"/><path d="M430.3 258l1.2-.1l.8 .6l.4 1l-.4 1l-.8 .1l-.5 .5l-.6-.1l-.7-.5l-.3-.5l0-1l.3-.5zM511.5 258l1-.1l1 .6l.3 .5l0 1l-.8 .9l-1 .2l-.5-.5l-.6-.1l-.3-.5l0-1l.3-.5z" fill="#ffe600"/><path d="M429.9 258.5l1.1-.5l1 .4l.4 .6l.1 .5l-.4 1l-.6 .1l-.5 .3l-1-.4l-.4-1zM511.1 258.5l.9-.4l.5 0l.7 .4l.5 1l-.5 1l-.7 .4l-.5 0l-.8-.4l-.5-1z" fill="#ffde00"/><path d="M430.3 258.5l.7-.3l.5 .1l.5 .4l.3 .8l-.1 .5l-.4 .5l-.8 .3l-.5-.2l-.5-.4l-.2-.7l.1-.5zM511.4 258.5l.6-.2l1 .2l.5 1l-.5 1l-1 .2l-.6-.2l-.4-.5l0-1z" fill="#ffd700"/><path d="M430.8 258.5l.7 .1l.4 .4l.2 .5l-.1 .5l-.5 .5l-.5 .1l-.5-.2l-.4-.4l-.1-.5l.1-.5zM511.9 258.5l.6 0l.6 .5l.1 .5l-.1 .5l-.6 .5l-.7 0l-.5-.5l-.2-.5l.2-.5z" fill="#ffd000"/><path d="M430.4 259l.6-.3l.5 .2l.4 .6l-.2 .5l-.7 .4l-.5-.2l-.3-.7zM511.5 259l.5-.3l.5 .1l.5 .6l-.1 .6l-.4 .3l-.5 0l-.5-.3l-.2-.5z" fill="#ffc800"/><path d="M430.9 259l.2 0l.5 .5l-.3 .5l-.3 .1l-.3-.1l-.3-.5zM512 259l.5 .1l.2 .4l-.2 .5l-.6 0l-.3-.5z" fill="#ffc100"/><path d="M430.9 259.5l.2 0l-.1 .2zM512 259.5l0 0l.1 0l-.1 .1z" fill="#ffbd00"/><path d="M462.6 237l4.9-.3l5-.1l5 .2l4.5 .3l4 .6l3 .7l3 .9l2.5 1.1l2.5 1.8l1 1.1l1 1.5l1 2.7l.9 4.5l.8 3l1.1 2.5l1.3 2l.7 1l4.6 .5l1.1 1l1 .4l.5 1.9l3-.2l2.9-1.1l2.2-1.5l5.4-4.3l2-1.1l2-.8l2-.3l2.5 .2l2.3 .8l2.2 1.3l2 1.6l1.5 1.6l3.2 4.5l1.7 3l1.1 2.5l.8 2.5l.8 3l.3 4.5l-.1 2l-.5 2.5l-1.4 4l-2.6 4.5l-3.1 4l-3.4 3.5l-3.8 3.2l-4.5 3.1l-4.5 2.3l-4.5 1.6l-4.5 1.1l-5 .6l-4 .1l-4-.3l-12.5-1.7l-6-.7l-6-.3l-7.5-.1l-8.8 .1l-6.7 .4l-19 2.5l-4 .1l-4-.2l-3.5-.5l-3-.7l-3-.9l-3.5-1.4l-5.5-3.1l-3-2.1l-2.5-2.1l-2.7-2.5l-2.2-2.5l-2-2.5l-1.7-2.5l-1.3-2.5l-1.1-2.5l-.7-2.5l-.4-2.5l-.1-2.5l.2-2.5l.5-2.5l.9-3l1.2-3l1.6-3l1.6-2.5l1.9-2.5l2.5-2.5l2.8-1.8l3-1l3-.1l2.5 .6l2 1.1l6.1 4.7l2.2 1.5l2.7 1.1l3 .3l.5-2l1.2-.4l1.1-1l4.6-.5l.7-1l1.5-2.5l1-2.5l1.6-7l.7-2l1.1-2l1.5-1.6l2.5-1.6l4-1.6l4.5-1z" fill="#97ff60"/><path d="M444.7 258.5l2.8-.4l2.5 .2l3 .7l4 1.5l29.2 0l5.3-1.9l2.5-.4l2-.1l1.5 .2l2 .5l3.2 1.7l5.9 .5l1.4 1.3l1.5 .6l.5 1.8l3.5-.2l7-1.9l2-.1l1.5 .3l2 1l2.1 1.7l1.8 2.5l1.4 3l.8 3l.3 3l-.1 3.5l-.6 3l-1.3 3.5l-1.7 3l-2.2 2.8l-2.5 2.5l-3 2.1l-3 1.5l-3.5 1.2l-3 .6l-4.5 .2l-5-.7l-5-1.4l-8.5-3.3l-3.5-1.1l-4-.8l-5-.5l-12 0l-4 .3l-3 .4l-5 1.3l-8.5 3.2l-4 1.3l-3.5 .8l-3.5 .5l-4-.1l-4-.7l-3.5-1.2l-3.5-1.9l-3.5-2.8l-2.8-3.2l-2.1-3.5l-1.6-4l-.7-4.5l.1-4l1-4l1.7-3.5l1.1-1.5l1.5-1.5l1.8-1.2l1.5-.6l1.5-.2l2 .1l6.5 1.8l3.5 .3l.5-1.8l1-.2l1-.6l1.1-1.1l5.9-.5l2-1.1z" fill="#90ff66"/><path d="M435.7 261l8.3-.4l54.5 0l9 .4l1.5 1.5l1 .6l1.5 .4l.5 1.5l2.5 0l5-.4l2 0l2.5 .8l2 1.4l1.1 1.2l1 1.5l.7 1.5l.7 2l.4 2l.1 2l-.3 4l-1.1 3.5l-1.9 3.5l-2.2 2.7l-3 2.5l-3 1.6l-3.5 1.2l-3.5 .5l-4-.2l-2.5-.5l-3-1l-2.5-1.1l-3-1.6l-3-2.1l-3.2-2.5l-2.7-2.5l-1.7-2l-1-1.5l-.4-1l-.2-1l0-1.5l.5-1.5l.7-1.5l2.9-4.5l-16.9-.1l-16.7 .1l3.2 5l.8 2l.2 1.5l-.3 1.5l-.7 1.5l-1.1 1.5l-1.8 2l-3.4 3l-3.4 2.5l-3.3 2.1l-3.5 1.6l-3 1l-3.5 .7l-3.5 .1l-3-.4l-3.5-1.1l-3-1.6l-3-2.4l-2.5-3l-1.7-3l-1.1-3.5l-.5-4l.3-3.5l.7-2.5l1.2-2.5l1.6-2l2-1.5l1.5-.6l2-.3l6 .4l2.5 0l.5-1.5l1.5-.3l1-.6l.8-.6z" fill="#8aff6d"/><path d="M437.6 261l6.9-.2l55 0l6.1 .2l1.6 1.5l1.3 .8l1.5 .6l1.5 .3l.5 1.1l6 .3l2 .3l2 .8l1.7 1.3l1.9 2.5l1.1 3l.4 3.5l-.4 3.5l-1 3l-1.3 2.5l-2 2.5l-2.4 2l-2.5 1.4l-3 1.1l-3 .4l-3-.1l-2.5-.5l-2-.6l-4-2.1l-3.5-2.8l-2.7-3.3l-1.4-3l-.4-1.5l-.1-2l.5-3.5l1.4-3.5l-6.8-.3l-15.5-.1l-15.5 .1l-6.6 .3l1 2l.7 2.5l.2 2l-.1 2l-.4 2l-.9 2l-1.2 2l-1.7 2l-2.3 2l-2.2 1.5l-2.5 1.3l-2.5 .9l-2.5 .5l-2.5 .2l-2.5-.2l-2.5-.6l-3-1.3l-2.5-1.7l-2.5-2.6l-1.6-2.5l-1.2-3l-.5-3l0-3l.6-3l.8-2l1-1.5l1.5-1.5l1.4-.9l1.4-.6l1.6-.3l6.5-.4l.5-1.1l2-.4l1.5-.7l1.6-1.1z" fill="#83ff73"/><path d="M439.5 263l2-.3l1.5 .1l2 .4l1.5 .7l1.6 1.1l1.7 1.5l2.8 3.5l-4.1 .2l-2.1 .3l1.1 3l.4 3l-.3 3l-1.2 3l-1.7 2.5l-2.2 2.2l-2.5 1.7l-3 1.3l-2.5 .5l-3 .1l-3-.5l-2.5-1l-2-1.3l-2.1-2l-1.4-2l-1.2-2.5l-.7-2.5l-.2-3l.4-2.5l.9-2.5l1-1.5l.9-1l1.3-1l1.1-.5l2.5-.7l4.5-.6l.5-.7l2.9-.5zM499 263l2-.3l2 .2l5.8 1.6l2.7 .5l.5 .7l5.8 .8l2.5 1l1.8 1.5l1.4 2l.8 2l.5 2.5l-.1 3l-.6 2.5l-1.1 2.5l-1.5 2.3l-1.7 1.7l-2.3 1.6l-2.5 1.1l-3 .6l-3 0l-3-.7l-3-1.3l-2.5-1.8l-2-2l-1.1-1.5l-1.1-2l-.5-1.5l-.4-2l-.1-2l.3-2l.6-2l.6-1.5l-2.3-.3l-3.9-.2l1.9-2.5l2-2l2.1-1.5z" fill="#7dff7a"/><path d="M434.5 265.6l2.5-.1l2 .4l2 .8l1.7 1.3l1.6 2l-.2 .5l.8 2l.5 2l0 2.5l-.3 2l-1 2.5l-1.3 2l-1.8 1.9l-2 1.4l-2.5 1.1l-2.5 .6l-2.5 .1l-2.5-.5l-2-.8l-2-1.3l-2-2l-1.3-2l-.8-2l-.5-2.5l0-2.5l.4-2l.8-2l1.4-1.9l1.4-1.1l1.6-.8l2-.6zM503.7 266l1.8-.4l2.5 0l3.5 .3l4 .8l2 .6l1.3 .7l1.3 1l1.2 1.5l1 2l.5 2l.1 2l-.3 2.5l-.7 2l-1 2l-1.6 2l-1.8 1.5l-2 1.1l-2.5 .8l-2.5 .2l-2.5-.3l-2.5-.8l-2-1.1l-2.2-1.9l-1.6-2l-1.1-2l-.7-2.5l-.2-2.5l.4-2.5l1-2.5l-.2-.5l.7-1l1.9-1.9z" fill="#77ff80"/><path d="M431.1 266.5l.4 .3l2-.1l1.5 .1l2.5 .7l1.5 1l1.3 1.5l2 .5l.7 1.5l.4 1.5l.2 2l-.2 2l-.6 2l-1.1 2l-1.2 1.5l-2 1.7l-2 1l-2 .6l-2 .2l-2-.2l-2-.6l-2-1.1l-1.5-1.3l-1.4-1.8l-.7-1.5l-.7-2l-.2-2.5l.2-2l.7-2l1-1.5l1.1-1.2l1.5-1l2-.8zM511.8 266.5l1.7 .2l2.5 .8l1.8 1l1.1 1l1.1 1.5l.9 2l.3 2l-.1 2l-.4 2l-.8 2l-1.4 2l-1.5 1.4l-1.5 .9l-2 .8l-2 .4l-2-.1l-2-.4l-2-.9l-2-1.4l-1.5-1.5l-1.1-1.7l-.8-2l-.4-2l0-2.5l.5-2l.7-1.5l2-.5l.8-1l1.3-1.1l1-.5l1.5-.5l2-.2l2 .1z" fill="#70ff87"/><path d="M431 266.8l.5 .9l2-.1l1.5 .3l1.5 .8l1.3 1.3l3.1 .5l.8 2l.3 2l-.2 2l-.5 2l-.8 1.5l-1.2 1.5l-1.3 1.2l-1.5 .9l-2 .7l-2 .3l-1.5-.2l-1.5-.3l-1.5-.8l-1.5-1.1l-1.1-1.2l-.9-1.5l-.8-2l-.2-2l0-1.5l.5-2l.8-1.5l.8-1l1.4-1.1l1.6-.9zM512 266.8l.5 .1l2.5 .8l1.5 .9l1.5 1.4l1 1.5l.5 1.5l.2 1.5l0 2l-.5 2l-.7 1.5l-1.1 1.5l-1.4 1.3l-1.5 .9l-1.5 .6l-1.5 .2l-2 0l-2-.5l-1.5-.8l-1.6-1.2l-1.3-1.5l-.9-1.5l-.7-2l-.2-1.5l0-2l.4-1.5l.6-1.5l3.1-.5l.9-1l1.2-.8l2-.6l2 .1z" fill="#6aff8d"/><path d="M431 267.2l.5 1.3l1.5-.2l1 .2l1.2 .5l1.1 1l3.4 .5l.5 1l.4 1.5l0 1.5l-.3 2l-.5 1.5l-.8 1.3l-1 1.2l-1.5 1.1l-1.5 .7l-1.5 .4l-1.5 0l-1.5-.2l-1.5-.6l-1.3-.9l-1-1l-.7-1l-.8-1.5l-.4-1.5l-.1-1.5l.2-1.5l.5-1.5l.9-1.5l.9-1l1.3-.9zM512 267.1l2.5 .9l1.5 1l.9 1l.9 1.5l.5 1.5l.2 1.5l-.1 1.5l-.4 1.5l-.8 1.5l-1.1 1.5l-1.1 .9l-1 .6l-1.5 .5l-1.5 .2l-1.5 0l-1.5-.4l-1.5-.8l-1.5-1.2l-1-1.3l-.8-1.5l-.5-1.5l-.1-1.5l0-1.5l.9-2.5l3.4-.5l1.1-1l1.5-.6l2 0z" fill="#63ff94"/><path d="M431 267.6l.5 1.5l1-.2l1 .1l1 .4l.7 .6l3.5 .5l.3 .5l.3 1l.2 1.5l-.1 1.5l-.4 1.5l-.5 1l-1 1.4l-1 .9l-1.5 .8l-2.5 .5l-1.5-.2l-1-.3l-2-1.4l-1-1.2l-.6-1l-.4-1.5l-.2-1.5l.5-2.5l1.3-2l1.2-1zM512 267.5l1.5 .5l1.6 1l.9 1l.7 1l.5 1.5l.2 1.5l-.1 1.5l-.5 1.5l-.6 1l-1.7 1.8l-1 .6l-1.5 .6l-2.5 0l-1.5-.5l-1-.5l-1-.8l-1-1.2l-.6-1l-.5-1.5l-.2-1.5l.1-1.5l.7-2l3.5-.5l1-.8l1-.3l1.5 .1z" fill="#5dff9a"/><path d="M430.7 268l.4 0l.4 1.7l1.5-.3l1.3 .6l3.6 .5l.5 1l.2 1.5l0 1l-.6 2l-.6 1l-.9 1.1l-2 1.2l-1.5 .3l-1 0l-2-.6l-1-.6l-.9-.9l-1.1-2l-.2-1l-.1-1.5l.6-2l.6-1l1-1zM512 267.8l.5 .2l1.5 .8l.9 .7l.8 1l.7 2l.1 1.5l-.2 1l-.9 2l-.9 1.1l-1 .8l-2 .7l-2-.1l-1-.3l-1.3-.7l-1.1-1l-.6-.9l-.8-2.1l0-2.5l.6-1.5l3.6-.5l1.1-.6l1.5 .2z" fill="#56ffa0"/><path d="M431 268.2l.5 1.8l1.5-.2l3 .5l1.3 .2l.2 .5l.4 2l-.4 2l-.6 1l-.8 1l-1.6 1l-1.5 .4l-2-.2l-1-.5l-.9-.7l-1.1-1.6l-.5-1.9l.2-2l.5-1l.7-1zM512 268.2l1.5 .7l.8 .6l.7 1l.7 2l-.1 2l-1.1 2l-1.5 1.3l-1.5 .5l-2 0l-2-1l-.9-.8l-.6-1l-.6-2l.1-2l.4-1l4.6-.7l1 .2z" fill="#50ffa7"/><path d="M512 268.5l1.5 .8l1 1.2l.6 1.5l-.1 2l-.7 1.5l-1.3 1.2l-1.5 .6l-2 0l-1.6-.8l-1.3-1.5l-.6-1.5l.1-2l.4-1l2.5-.4l2.5-.1zM430.1 269l.9-.5l.5 1.6l2.5 0l2.7 .4l.5 1.5l-.2 2l-.7 1.5l-1.3 1.2l-1.5 .6l-2 0l-1.5-.7l-1-1.1l-.8-1.5l-.1-2l.6-1.5z" fill="#49ffad"/><path d="M431 268.8l.3 1.2l.2 .1l2.5 0l2.2 .4l.5 1.5l-.1 1.5l-.8 1.5l-1.3 1.2l-1.5 .4l-1.5-.1l-1.5-.9l-.9-1.1l-.5-1.5l.1-1.5l.8-1.5zM512 268.8l1.2 .7l1.1 1.5l.3 1.5l-.3 1.5l-.8 1.3l-1.5 1.1l-1.5 .2l-1.5-.3l-1.5-1.1l-.7-1.2l-.3-1.5l.2-1.5l.3-.5l.5-.1l2-.3l2 0z" fill="#43ffb4"/><path d="M430.4 269.5l.6-.4l.3 .9l.2 .2l2-.1l2.3 .4l.4 1l0 1.5l-.3 1l-.9 1.1l-1.5 .8l-1.5 0l-1.5-.6l-.8-.8l-.5-1l-.2-1.5l.5-1.5zM512 269l.8 .5l.5 .5l.6 1l.3 1.5l-.4 1.5l-.8 1l-1.5 .9l-1.5 0l-1-.3l-1-.7l-.9-1.4l-.2-1.5l.2-1l.3-.5l.6-.1l2-.3l1.5 0l.2-.1z" fill="#3cffba"/><path d="M431 269.4l.2 .6l.3 .2l2 0l2 .3l.4 1l-.1 1.5l-.4 1l-.9 .9l-1 .5l-1.5 0l-1-.4l-1.1-1l-.4-1l0-1.5l.4-1zM512 269.3l1 .7l.6 1l.2 1.5l-.3 1.1l-1 1.2l-1 .5l-1.5 .1l-1-.3l-1-.9l-.6-1.2l-.1-1.5l.4-1l1.8-.3l2 0l.3-.2z" fill="#36ffc1"/><path d="M431 269.7l.1 .3l.4 .2l2 0l1.7 .3l.4 1l0 1l-.4 1l-.7 .9l-1 .5l-1 .2l-1-.3l-1-.7l-.7-1.1l-.1-1l.2-1zM511.9 270l.1-.5l.6 .5l.7 1l.2 1.5l-.3 1l-.7 .8l-1 .6l-1.5 .1l-1-.4l-1-1l-.4-1.1l0-1l.4-1l2-.3l1.5 0z" fill="#30ffc7"/><path d="M431 269.9l.5 .4l1.5-.1l1.9 .3l.4 1l0 1l-.8 1.4l-1 .7l-1 .1l-1-.3l-1-.8l-.4-.6l-.1-1l.2-1zM512 269.8l.8 .7l.4 1l0 1l-.4 1l-.8 .8l-1 .4l-1-.1l-1-.4l-.7-.7l-.4-1l0-1l.4-1l1.7-.3l1.5 .1z" fill="#29ffce"/><path d="M512 270l.5 .5l.5 1l-.1 1l-.4 1l-.6 .5l-.9 .4l-1-.1l-1-.5l-.6-.8l-.3-1l.2-1l.3-.5l1.4-.2l1.5 0zM431 270.2l.5 .1l1.5 0l1.6 .2l.3 .5l.2 1l-.2 1l-.4 .5l-.5 .5l-1 .4l-1-.1l-1-.5l-.6-.8l-.2-1l.2-1z" fill="#23ffd4"/><path d="M430.9 270.5l1.6-.2l1.9 .2l.3 .5l.2 1l-.4 1.1l-.5 .6l-1 .4l-.5 0l-1-.3l-.5-.4l-.5-.9l0-1zM508.8 270.5l3.2-.3l.6 .8l.2 1l-.3 1l-.4 .5l-.6 .4l-1 .2l-1-.2l-.5-.4l-.4-.5l-.3-1l.2-1z" fill="#1cffdb"/><path d="M431.2 270.5l1.3-.2l1.6 .2l.4 .5l.2 1l-.2 .7l-.5 .7l-.5 .3l-1 .2l-1-.3l-.5-.5l-.3-.6l-.1-1zM509.1 270.5l1.4-.2l1.5 .2l.4 .5l.2 1l-.6 1.3l-.5 .4l-1 .2l-1-.3l-.5-.4l-.5-1.2l.2-1z" fill="#16ffe1"/><path d="M431.4 270.5l1.1-.1l1.4 .1l.4 .5l.2 1l-.5 1.1l-1 .6l-1-.1l-.5-.3l-.5-.6l-.2-.7l.2-1zM509.3 270.5l1.2-.1l1.3 .1l.6 1l-.1 1l-.3 .5l-1 .6l-1 0l-.5-.3l-.5-.5l-.3-.8l.2-1z" fill="#0ff8e7"/><path d="M431.6 270.5l2.1 0l.4 .5l.2 1l-.3 .8l-.5 .5l-.5 .2l-1-.1l-.9-.9l-.1-1zM509.5 270.5l2.1 0l.4 .5l.2 1l-.2 .7l-.5 .5l-1 .3l-1.1-.5l-.4-.5l-.1-1z" fill="#09f0ee"/><path d="M431.9 270.5l1.5 0l.5 .5l.2 1l-.1 .5l-.5 .5l-1 .3l-.8-.3l-.4-.5l-.2-1l.3-.5zM509.8 270.5l1.5 0l.5 .5l.3 1l-.6 1l-1 .3l-.8-.3l-.5-.5l-.1-1l.2-.5z" fill="#02e8f4"/><path d="M432.3 270.5l.8 0l.4 .2l.5 .8l-.2 1l-.8 .6l-1-.1l-.5-.5l-.2-.5l.2-1zM510.2 270.5l.8 0l.7 .5l.2 .5l-.2 1l-.7 .6l-1-.1l-.5-.4l-.3-.6l.3-1z" fill="#00e0fb"/><path d="M431.7 271l.8-.4l.5 0l.5 .3l.3 .6l-.2 1l-.6 .4l-1-.1l-.6-.8l.1-.5zM509.6 271l.9-.4l.5 0l.5 .4l.2 .5l-.2 1l-.5 .4l-1-.1l-.6-.8l0-.5z" fill="#00d8ff"/><path d="M431.9 271l.6-.3l.9 .3l.3 .5l0 .5l-.3 .5l-.9 .3l-.6-.3l-.3-.5l0-.5zM509.8 271l.7-.3l.8 .3l.3 .5l0 .5l-.3 .5l-.8 .3l-.7-.3l-.3-.5l0-.5z" fill="#00d0ff"/><path d="M432.2 271l.8-.1l.5 .6l0 .5l-.5 .6l-.8-.1l-.4-.5l0-.5zM510.1 271l.4-.2l.5 .2l.4 .5l0 .5l-.4 .6l-.5 .1l-.4-.2l-.4-.5l0-.5z" fill="#00c8ff"/><path d="M432.5 271l.5 .1l.3 .4l0 .5l-.3 .4l-.5 .1l-.6-.5l0-.5zM510.5 271l.5 .2l.3 .3l0 .5l-.3 .3l-.5 .2l-.6-.5l0-.5z" fill="#00c0ff"/><path d="M432.1 271.5l.4-.3l.5 .1l.1 .7l-.6 .3l-.4-.3zM510 271.5l.5-.3l.5 .2l.1 .6l-.6 .3l-.4-.3z" fill="#00b8ff"/><path d="M432.4 271.5l.5 0l-.1 .5l-.4 0zM510.3 271.5l.2-.1l.3 .1l-.1 .5l-.3 0z" fill="#00b0ff"/></g>
<path d="M491.69 430.85L507.36 427.77M522.43 418.62L536.32 403.78M548.49 383.79L558.48 359.45M565.91 331.67L570.48 301.53M572.5 270.18L572.5 260.54M570.48 229.19L565.91 199.05M558.48 171.27L548.49 146.93M536.32 126.94L522.43 112.1M507.36 102.95L491.69 99.87M471.6 99.5L451.52 99.5M435.84 102.95L420.77 112.1M406.88 126.94L394.71 146.93M384.72 171.27L377.3 199.05M372.72 229.19L371.18 260.54M371.18 270.18L372.72 301.53M377.3 331.67L384.72 359.45M394.71 383.79L406.88 403.78M420.77 418.62L435.84 427.77M451.52 430.5L471.6 430.5" fill="none" stroke="#000" stroke-width="0.69" stroke-linecap="round"/>
<path d="M507.36 427.77L522.43 418.62M536.32 403.78L548.49 383.79M558.48 359.45L565.91 331.67M570.48 301.53L572.02 270.18M572.02 260.54L570.48 229.19M565.91 199.05L558.48 171.27M548.49 146.93L536.32 126.94M522.43 112.1L507.36 102.95M491.69 99.5L471.6 99.5M451.52 99.87L435.84 102.95M420.77 112.1L406.88 126.94M394.71 146.93L384.72 171.27M377.3 199.05L372.72 229.19M371.5 260.54L371.5 270.18M372.72 301.53L377.3 331.67M384.72 359.45L394.71 383.79M406.88 403.78L420.77 418.62M435.84 427.77L451.52 430.85M471.6 430.5L491.69 430.5" fill="none" stroke="#000" stroke-width="0.69" stroke-linecap="round"/>
<path d="M491.69 430.85L507.36 427.77M507.36 427.77L522.43 418.62M522.43 418.62L536.32 403.78M536.32 403.78L548.49 383.79M548.49 383.79L558.48 359.45M558.48 359.45L565.91 331.67M565.91 331.67L570.48 301.53M570.48 301.53L572.02 270.18M572.5 270.18L572.5 260.54M572.02 260.54L570.48 229.19M570.48 229.19L565.91 199.05M565.91 199.05L558.48 171.27M558.48 171.27L548.49 146.93M548.49 146.93L536.32 126.94M536.32 126.94L522.43 112.1M522.43 112.1L507.36 102.95M507.36 102.95L491.69 99.87M491.69 99.5L471.6 99.5M471.6 99.5L451.52 99.5M451.52 99.87L435.84 102.95M435.84 102.95L420.77 112.1M420.77 112.1L406.88 126.94M406.88 126.94L394.71 146.93M394.71 146.93L384.72 171.27M384.72 171.27L377.3 199.05M377.3 199.05L372.72 229.19M372.72 229.19L371.18 260.54M371.5 260.54L371.5 270.18M371.18 270.18L372.72 301.53M372.72 301.53L377.3 331.67M377.3 331.67L384.72 359.45M384.72 359.45L394.71 383.79M394.71 383.79L406.88 403.78M406.88 403.78L420.77 418.62M420.77 418.62L435.84 427.77M435.84 427.77L451.52 430.85M451.52 430.5L471.6 430.5M471.6 430.5L491.69 430.5" fill="none" stroke="#000" stroke-width="0.69" stroke-opacity="0.6"/>
<g fill="#000" fill-opacity="0.55"><circle cx="491.69" cy="430.85" r="0.75"/><circle cx="507.36" cy="427.77" r="0.75"/><circle cx="522.43" cy="418.62" r="0.75"/><circle cx="536.32" cy="403.78" r="0.75"/><circle cx="548.49" cy="383.79" r="0.75"/><circle cx="558.48" cy="359.45" r="0.75"/><circle cx="565.91" cy="331.67" r="0.75"/><circle cx="570.48" cy="301.53" r="0.75"/><circle cx="572.02" cy="270.18" r="0.75"/><circle cx="572.02" cy="260.54" r="0.75"/><circle cx="570.48" cy="229.19" r="0.75"/><circle cx="565.91" cy="199.05" r="0.75"/><circle cx="558.48" cy="171.27" r="0.75"/><circle cx="548.49" cy="146.93" r="0.75"/><circle cx="536.32" cy="126.94" r="0.75"/><circle cx="522.43" cy="112.1" r="0.75"/><circle cx="507.36" cy="102.95" r="0.75"/><circle cx="491.69" cy="99.87" r="0.75"/><circle cx="471.6" cy="99.87" r="0.75"/><circle cx="451.52" cy="99.87" r="0.75"/><circle cx="435.84" cy="102.95" r="0.75"/><circle cx="420.77" cy="112.1" r="0.75"/><circle cx="406.88" cy="126.94" r="0.75"/><circle cx="394.71" cy="146.93" r="0.75"/><circle cx="384.72" cy="171.27" r="0.75"/><circle cx="377.3" cy="199.05" r="0.75"/><circle cx="372.72" cy="229.19" r="0.75"/><circle cx="371.18" cy="260.54" r="0.75"/><circle cx="371.18" cy="270.18" r="0.75"/><circle cx="372.72" cy="301.53" r="0.75"/><circle cx="377.3" cy="331.67" r="0.75"/><circle cx="384.72" cy="359.45" r="0.75"/><circle cx="394.71" cy="383.79" r="0.75"/><circle cx="406.88" cy="403.78" r="0.75"/><circle cx="420.77" cy="418.62" r="0.75"/><circle cx="435.84" cy="427.77" r="0.75"/><circle cx="451.52" cy="430.85" r="0.75"/><circle cx="471.6" cy="430.85" r="0.75"/></g>
<path d="M371.18 269.98H572.02" stroke="#000" stroke-opacity="0.6" stroke-width="1.55"/>
<g fill="#000" fill-opacity="0.75"><circle cx="371.41" cy="270.18" r="0.9"/><circle cx="388.05" cy="270.18" r="0.9"/><circle cx="400.58" cy="270.18" r="0.9"/><circle cx="416.01" cy="270.18" r="0.9"/><circle cx="428.86" cy="270.18" r="0.9"/><circle cx="527.19" cy="270.18" r="0.9"/><circle cx="542.3" cy="270.18" r="0.9"/><circle cx="555.15" cy="270.18" r="0.9"/><circle cx="571.7" cy="270.18" r="0.9"/></g>
<rect x="431.43" y="260.54" width="80.34" height="9.64" fill="none" stroke="#000" stroke-width="1.39"/>
<path d="M512.47 260.24V270.68" stroke="#000" stroke-width="0.9"/>
<path d="M361.5 83.5V447.5H582.5V83.5Z" fill="none" stroke="#000" stroke-width="1.111" stroke-linejoin="miter" stroke-linecap="square"/>
<rect x="587.5" y="83.5" width="11.0" height="364.0" fill="url(#jet)"/>
<path d="M587.5 83.5V447.5H598.5V83.5Z" fill="none" stroke="#000" stroke-width="1.111" stroke-linecap="square"/>
<path d="M407.5 447.5v4.86M472.5 447.5v4.86M536.5 447.5v4.86M361.5 399.5h-4.86M361.5 334.5h-4.86M361.5 270.5h-4.86M361.5 206.5h-4.86M361.5 142.5h-4.86M598.5 131.5h4.86M598.5 191.5h4.86M598.5 251.5h4.86M598.5 311.5h4.86M598.5 371.5h4.86M598.5 430.5h4.86" stroke="#000" stroke-width="1.111"/>
<path d="M812.73 430.85 L828.4 427.77 L843.47 418.62 L857.36 403.78 L869.53 383.79 L879.53 359.45 L886.95 331.67 L891.52 301.53 L893.06 270.18 L893.06 260.54 L891.52 229.19 L886.95 199.05 L879.53 171.27 L869.53 146.93 L857.36 126.94 L843.47 112.1 L828.4 102.95 L812.73 99.87 L792.64 99.87 L772.56 99.87 L756.89 102.95 L741.82 112.1 L727.93 126.94 L715.75 146.93 L705.76 171.27 L698.34 199.05 L693.77 229.19 L692.22 260.54 L692.22 270.18 L693.77 301.53 L698.34 331.67 L705.76 359.45 L715.75 383.79 L727.93 403.78 L741.82 418.62 L756.89 427.77 L772.56 430.85 L792.64 430.85Z" fill="#7dff7a"/>
<path d="M812.73 430.85L828.4 427.77M843.47 418.62L857.36 403.78M869.53 383.79L879.53 359.45M886.95 331.67L891.52 301.53M893.5 270.18L893.5 260.54M891.52 229.19L886.95 199.05M879.53 171.27L869.53 146.93M857.36 126.94L843.47 112.1M828.4 102.95L812.73 99.87M792.64 99.5L772.56 99.5M756.89 102.95L741.82 112.1M727.93 126.94L715.75 146.93M705.76 171.27L698.34 199.05M693.77 229.19L692.22 260.54M692.22 270.18L693.77 301.53M698.34 331.67L705.76 359.45M715.75 383.79L727.93 403.78M741.82 418.62L756.89 427.77M772.56 430.5L792.64 430.5" fill="none" stroke="#000" stroke-width="0.69" stroke-linecap="round"/>
<path d="M828.4 427.77L843.47 418.62M857.36 403.78L869.53 383.79M879.53 359.45L886.95 331.67M891.52 301.53L893.06 270.18M893.06 260.54L891.52 229.19M886.95 199.05L879.53 171.27M869.53 146.93L857.36 126.94M843.47 112.1L828.4 102.95M812.73 99.5L792.64 99.5M772.56 99.87L756.89 102.95M741.82 112.1L727.93 126.94M715.75 146.93L705.76 171.27M698.34 199.05L693.77 229.19M692.5 260.54L692.5 270.18M693.77 301.53L698.34 331.67M705.76 359.45L715.75 383.79M727.93 403.78L741.82 418.62M756.89 427.77L772.56 430.85M792.64 430.5L812.73 430.5" fill="none" stroke="#000" stroke-width="0.69" stroke-linecap="round"/>
<path d="M812.73 430.85L828.4 427.77M828.4 427.77L843.47 418.62M843.47 418.62L857.36 403.78M857.36 403.78L869.53 383.79M869.53 383.79L879.53 359.45M879.53 359.45L886.95 331.67M886.95 331.67L891.52 301.53M891.52 301.53L893.06 270.18M893.5 270.18L893.5 260.54M893.06 260.54L891.52 229.19M891.52 229.19L886.95 199.05M886.95 199.05L879.53 171.27M879.53 171.27L869.53 146.93M869.53 146.93L857.36 126.94M857.36 126.94L843.47 112.1M843.47 112.1L828.4 102.95M828.4 102.95L812.73 99.87M812.73 99.5L792.64 99.5M792.64 99.5L772.56 99.5M772.56 99.87L756.89 102.95M756.89 102.95L741.82 112.1M741.82 112.1L727.93 126.94M727.93 126.94L715.75 146.93M715.75 146.93L705.76 171.27M705.76 171.27L698.34 199.05M698.34 199.05L693.77 229.19M693.77 229.19L692.22 260.54M692.5 260.54L692.5 270.18M692.22 270.18L693.77 301.53M693.77 301.53L698.34 331.67M698.34 331.67L705.76 359.45M705.76 359.45L715.75 383.79M715.75 383.79L727.93 403.78M727.93 403.78L741.82 418.62M741.82 418.62L756.89 427.77M756.89 427.77L772.56 430.85M772.56 430.5L792.64 430.5M792.64 430.5L812.73 430.5" fill="none" stroke="#000" stroke-width="0.69" stroke-opacity="0.6"/>
<g fill="#000" fill-opacity="0.55"><circle cx="812.73" cy="430.85" r="0.75"/><circle cx="828.4" cy="427.77" r="0.75"/><circle cx="843.47" cy="418.62" r="0.75"/><circle cx="857.36" cy="403.78" r="0.75"/><circle cx="869.53" cy="383.79" r="0.75"/><circle cx="879.53" cy="359.45" r="0.75"/><circle cx="886.95" cy="331.67" r="0.75"/><circle cx="891.52" cy="301.53" r="0.75"/><circle cx="893.06" cy="270.18" r="0.75"/><circle cx="893.06" cy="260.54" r="0.75"/><circle cx="891.52" cy="229.19" r="0.75"/><circle cx="886.95" cy="199.05" r="0.75"/><circle cx="879.53" cy="171.27" r="0.75"/><circle cx="869.53" cy="146.93" r="0.75"/><circle cx="857.36" cy="126.94" r="0.75"/><circle cx="843.47" cy="112.1" r="0.75"/><circle cx="828.4" cy="102.95" r="0.75"/><circle cx="812.73" cy="99.87" r="0.75"/><circle cx="792.64" cy="99.87" r="0.75"/><circle cx="772.56" cy="99.87" r="0.75"/><circle cx="756.89" cy="102.95" r="0.75"/><circle cx="741.82" cy="112.1" r="0.75"/><circle cx="727.93" cy="126.94" r="0.75"/><circle cx="715.75" cy="146.93" r="0.75"/><circle cx="705.76" cy="171.27" r="0.75"/><circle cx="698.34" cy="199.05" r="0.75"/><circle cx="693.77" cy="229.19" r="0.75"/><circle cx="692.22" cy="260.54" r="0.75"/><circle cx="692.22" cy="270.18" r="0.75"/><circle cx="693.77" cy="301.53" r="0.75"/><circle cx="698.34" cy="331.67" r="0.75"/><circle cx="705.76" cy="359.45" r="0.75"/><circle cx="715.75" cy="383.79" r="0.75"/><circle cx="727.93" cy="403.78" r="0.75"/><circle cx="741.82" cy="418.62" r="0.75"/><circle cx="756.89" cy="427.77" r="0.75"/><circle cx="772.56" cy="430.85" r="0.75"/><circle cx="792.64" cy="430.85" r="0.75"/></g>
<path d="M692.22 269.98H893.06" stroke="#000" stroke-opacity="0.6" stroke-width="1.55"/>
<g fill="#000" fill-opacity="0.75"><circle cx="692.45" cy="270.18" r="0.9"/><circle cx="709.09" cy="270.18" r="0.9"/><circle cx="721.63" cy="270.18" r="0.9"/><circle cx="737.05" cy="270.18" r="0.9"/><circle cx="749.9" cy="270.18" r="0.9"/><circle cx="848.24" cy="270.18" r="0.9"/><circle cx="863.34" cy="270.18" r="0.9"/><circle cx="876.19" cy="270.18" r="0.9"/><circle cx="892.74" cy="270.18" r="0.9"/></g>
<rect x="752.48" y="260.54" width="80.34" height="9.64" fill="none" stroke="#000" stroke-width="1.39"/>
<path d="M833.51 260.24V270.68" stroke="#000" stroke-width="0.9"/>
<path d="M682.5 83.5V447.5H903.5V83.5Z" fill="none" stroke="#000" stroke-width="1.111" stroke-linejoin="miter" stroke-linecap="square"/>
<rect x="908.5" y="83.5" width="11.0" height="364.0" fill="url(#jet)"/>
<path d="M908.5 83.5V447.5H919.5V83.5Z" fill="none" stroke="#000" stroke-width="1.111" stroke-linecap="square"/>
<path d="M728.5 447.5v4.86M793.5 447.5v4.86M857.5 447.5v4.86M682.5 399.5h-4.86M682.5 334.5h-4.86M682.5 270.5h-4.86M682.5 206.5h-4.86M682.5 142.5h-4.86M919.5 83.5h4.86M919.5 129.5h4.86M919.5 174.5h4.86M919.5 220.5h4.86M919.5 265.5h4.86M919.5 311.5h4.86M919.5 356.5h4.86M919.5 402.5h4.86M919.5 447.5h4.86" stroke="#000" stroke-width="1.111"/>
<text x="490.30" y="24.00" font-size="17.63" textLength="9.77" lengthAdjust="spacingAndGlyphs">E</text><text x="92.60" y="74.80" font-size="17.63" textLength="114.14" lengthAdjust="spacingAndGlyphs">Ex (real. part)</text><text x="77.30" y="469.00" font-size="13.89" textLength="17.74" lengthAdjust="spacingAndGlyphs">−2</text><text x="148.00" y="469.00" font-size="13.89" textLength="7.00" lengthAdjust="spacingAndGlyphs">0</text><text x="211.00" y="469.00" font-size="13.89" textLength="7.00" lengthAdjust="spacingAndGlyphs">2</text><text x="10.30" y="405.00" font-size="13.89" textLength="18.73" lengthAdjust="spacingAndGlyphs">−4</text><text x="10.30" y="341.00" font-size="13.89" textLength="17.74" lengthAdjust="spacingAndGlyphs">−2</text><text x="23.00" y="277.00" font-size="13.89" textLength="7.00" lengthAdjust="spacingAndGlyphs">0</text><text x="23.00" y="212.00" font-size="13.89" textLength="7.00" lengthAdjust="spacingAndGlyphs">2</text><text x="22.00" y="148.00" font-size="13.89" textLength="8.00" lengthAdjust="spacingAndGlyphs">4</text><text x="287.30" y="412.00" font-size="13.89" textLength="26.72" lengthAdjust="spacingAndGlyphs">−15</text><text x="287.30" y="365.00" font-size="13.89" textLength="27.72" lengthAdjust="spacingAndGlyphs">−10</text><text x="287.30" y="318.00" font-size="13.89" textLength="17.74" lengthAdjust="spacingAndGlyphs">−5</text><text x="289.00" y="272.00" font-size="13.89" textLength="7.00" lengthAdjust="spacingAndGlyphs">0</text><text x="288.00" y="225.00" font-size="13.89" textLength="7.00" lengthAdjust="spacingAndGlyphs">5</text><text x="287.30" y="178.00" font-size="13.89" textLength="15.74" lengthAdjust="spacingAndGlyphs">10</text><text x="287.30" y="131.00" font-size="13.89" textLength="15.74" lengthAdjust="spacingAndGlyphs">15</text><text x="413.60" y="74.80" font-size="17.63" textLength="114.14" lengthAdjust="spacingAndGlyphs">Ey (real. part)</text><text x="398.30" y="469.00" font-size="13.89" textLength="17.74" lengthAdjust="spacingAndGlyphs">−2</text><text x="469.00" y="469.00" font-size="13.89" textLength="7.00" lengthAdjust="spacingAndGlyphs">0</text><text x="532.00" y="469.00" font-size="13.89" textLength="7.00" lengthAdjust="spacingAndGlyphs">2</text><text x="332.30" y="405.00" font-size="13.89" textLength="18.73" lengthAdjust="spacingAndGlyphs">−4</text><text x="332.30" y="341.00" font-size="13.89" textLength="17.74" lengthAdjust="spacingAndGlyphs">−2</text><text x="345.00" y="277.00" font-size="13.89" textLength="7.00" lengthAdjust="spacingAndGlyphs">0</text><text x="344.00" y="212.00" font-size="13.89" textLength="7.00" lengthAdjust="spacingAndGlyphs">2</text><text x="343.00" y="148.00" font-size="13.89" textLength="8.00" lengthAdjust="spacingAndGlyphs">4</text><text x="608.30" y="437.00" font-size="13.89" textLength="18.73" lengthAdjust="spacingAndGlyphs">−6</text><text x="608.30" y="377.00" font-size="13.89" textLength="18.73" lengthAdjust="spacingAndGlyphs">−4</text><text x="608.30" y="317.00" font-size="13.89" textLength="17.74" lengthAdjust="spacingAndGlyphs">−2</text><text x="610.00" y="257.00" font-size="13.89" textLength="7.00" lengthAdjust="spacingAndGlyphs">0</text><text x="609.00" y="197.00" font-size="13.89" textLength="7.00" lengthAdjust="spacingAndGlyphs">2</text><text x="609.00" y="138.00" font-size="13.89" textLength="8.00" lengthAdjust="spacingAndGlyphs">4</text><text x="736.30" y="74.80" font-size="17.63" textLength="112.42" lengthAdjust="spacingAndGlyphs">Ez (real. part)</text><text x="719.30" y="469.00" font-size="13.89" textLength="17.74" lengthAdjust="spacingAndGlyphs">−2</text><text x="790.00" y="469.00" font-size="13.89" textLength="7.00" lengthAdjust="spacingAndGlyphs">0</text><text x="854.00" y="469.00" font-size="13.89" textLength="7.00" lengthAdjust="spacingAndGlyphs">2</text><text x="653.30" y="405.00" font-size="13.89" textLength="18.73" lengthAdjust="spacingAndGlyphs">−4</text><text x="653.30" y="341.00" font-size="13.89" textLength="17.74" lengthAdjust="spacingAndGlyphs">−2</text><text x="666.00" y="277.00" font-size="13.89" textLength="7.00" lengthAdjust="spacingAndGlyphs">0</text><text x="665.00" y="212.00" font-size="13.89" textLength="7.00" lengthAdjust="spacingAndGlyphs">2</text><text x="664.00" y="148.00" font-size="13.89" textLength="8.00" lengthAdjust="spacingAndGlyphs">4</text><text x="929.30" y="454.00" font-size="13.89" textLength="48.71" lengthAdjust="spacingAndGlyphs">−0.100</text><text x="929.30" y="408.00" font-size="13.89" textLength="48.71" lengthAdjust="spacingAndGlyphs">−0.075</text><text x="929.30" y="363.00" font-size="13.89" textLength="48.71" lengthAdjust="spacingAndGlyphs">−0.050</text><text x="929.30" y="317.00" font-size="13.89" textLength="48.71" lengthAdjust="spacingAndGlyphs">−0.025</text><text x="931.00" y="272.00" font-size="13.89" textLength="37.00" lengthAdjust="spacingAndGlyphs">0.000</text><text x="931.00" y="226.00" font-size="13.89" textLength="36.00" lengthAdjust="spacingAndGlyphs">0.025</text><text x="931.00" y="181.00" font-size="13.89" textLength="37.00" lengthAdjust="spacingAndGlyphs">0.050</text><text x="931.00" y="135.00" font-size="13.89" textLength="36.00" lengthAdjust="spacingAndGlyphs">0.075</text><text x="931.00" y="90.00" font-size="13.89" textLength="37.00" lengthAdjust="spacingAndGlyphs">0.100</text>
</svg></body></html>
